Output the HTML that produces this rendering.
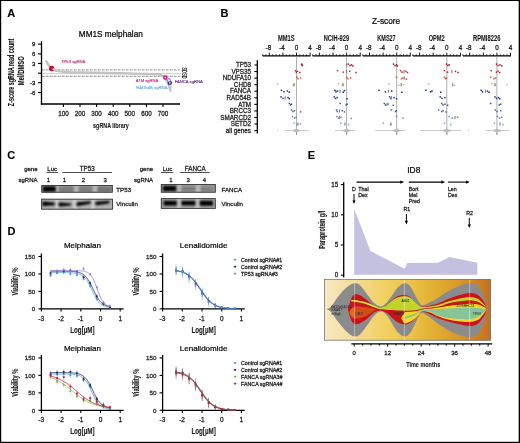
<!DOCTYPE html>
<html><head><meta charset="utf-8"><style>
html,body{margin:0;padding:0;background:#fff;}
svg{display:block;will-change:transform;}
text{font-family:"Liberation Sans", sans-serif;}
</style></head><body>
<svg width="520" height="443" viewBox="0 0 520 443">
<rect width="520" height="443" fill="#fff"/>
<defs>
<linearGradient id="fg" x1="324.3" y1="0" x2="490.8" y2="0" gradientUnits="userSpaceOnUse">
<stop offset="0" stop-color="#f9e8c0"/>
<stop offset="0.12" stop-color="#f6e0a8"/>
<stop offset="0.22" stop-color="#f3d88a"/>
<stop offset="0.37" stop-color="#f2d060"/>
<stop offset="0.52" stop-color="#ecc248"/>
<stop offset="0.64" stop-color="#e3b234"/>
<stop offset="0.82" stop-color="#d8962a"/>
<stop offset="1" stop-color="#c47020"/>
</linearGradient>
<filter id="bl1" x="-50%" y="-20%" width="200%" height="140%"><feGaussianBlur stdDeviation="1.0 0.5"/></filter>
<filter id="bl2" x="-20%" y="-80%" width="140%" height="260%"><feGaussianBlur stdDeviation="0.85"/></filter>
</defs>
<text x="7.3" y="16.9" font-size="11" fill="#000" stroke="#000" stroke-width="0.12" font-weight="bold">A</text>
<text x="78.8" y="37.0" font-size="8.2" fill="#000" stroke="#000" stroke-width="0.2" textLength="64" lengthAdjust="spacingAndGlyphs">MM1S melphalan</text>
<text x="14.3" y="72.4" font-size="8.4" fill="#111" stroke="#111" stroke-width="0.12" text-anchor="middle" font-weight="bold" textLength="67.5" lengthAdjust="spacingAndGlyphs" transform="rotate(-90 14.3 72.4)">Z-score sgRNA read count</text>
<text x="23.9" y="70.7" font-size="8.4" fill="#111" stroke="#111" stroke-width="0.12" text-anchor="middle" font-weight="bold" textLength="29" lengthAdjust="spacingAndGlyphs" transform="rotate(-90 23.9 70.7)">Mel/DMSO</text>
<line x1="41.50" y1="41.20" x2="41.50" y2="104.60" stroke="#000" stroke-width="1.3"/>
<line x1="40.85" y1="104.00" x2="180.00" y2="104.00" stroke="#000" stroke-width="1.3"/>
<line x1="38.00" y1="44.10" x2="41.50" y2="44.10" stroke="#000" stroke-width="1.1"/>
<text x="35.3" y="46.2" font-size="6" fill="#222" stroke="#222" stroke-width="0.26" text-anchor="end">9</text>
<line x1="38.00" y1="53.90" x2="41.50" y2="53.90" stroke="#000" stroke-width="1.1"/>
<text x="35.3" y="56.0" font-size="6" fill="#222" stroke="#222" stroke-width="0.26" text-anchor="end">6</text>
<line x1="38.00" y1="63.50" x2="41.50" y2="63.50" stroke="#000" stroke-width="1.1"/>
<text x="35.3" y="65.6" font-size="6" fill="#222" stroke="#222" stroke-width="0.26" text-anchor="end">3</text>
<line x1="38.00" y1="73.20" x2="41.50" y2="73.20" stroke="#000" stroke-width="1.1"/>
<line x1="38.00" y1="82.70" x2="41.50" y2="82.70" stroke="#000" stroke-width="1.1"/>
<text x="35.3" y="84.8" font-size="6" fill="#222" stroke="#222" stroke-width="0.26" text-anchor="end">-3</text>
<line x1="38.00" y1="92.50" x2="41.50" y2="92.50" stroke="#000" stroke-width="1.1"/>
<text x="35.3" y="94.6" font-size="6" fill="#222" stroke="#222" stroke-width="0.26" text-anchor="end">-6</text>
<line x1="63.40" y1="104.00" x2="63.40" y2="107.00" stroke="#000" stroke-width="1.1"/>
<text x="63.4" y="115.7" font-size="6.3" fill="#222" stroke="#222" stroke-width="0.26" text-anchor="middle">100</text>
<line x1="80.00" y1="104.00" x2="80.00" y2="107.00" stroke="#000" stroke-width="1.1"/>
<text x="80.0" y="115.7" font-size="6.3" fill="#222" stroke="#222" stroke-width="0.26" text-anchor="middle">200</text>
<line x1="96.60" y1="104.00" x2="96.60" y2="107.00" stroke="#000" stroke-width="1.1"/>
<text x="96.6" y="115.7" font-size="6.3" fill="#222" stroke="#222" stroke-width="0.26" text-anchor="middle">300</text>
<line x1="113.20" y1="104.00" x2="113.20" y2="107.00" stroke="#000" stroke-width="1.1"/>
<text x="113.2" y="115.7" font-size="6.3" fill="#222" stroke="#222" stroke-width="0.26" text-anchor="middle">400</text>
<line x1="129.80" y1="104.00" x2="129.80" y2="107.00" stroke="#000" stroke-width="1.1"/>
<text x="129.8" y="115.7" font-size="6.3" fill="#222" stroke="#222" stroke-width="0.26" text-anchor="middle">500</text>
<line x1="146.40" y1="104.00" x2="146.40" y2="107.00" stroke="#000" stroke-width="1.1"/>
<text x="146.4" y="115.7" font-size="6.3" fill="#222" stroke="#222" stroke-width="0.26" text-anchor="middle">600</text>
<line x1="163.00" y1="104.00" x2="163.00" y2="107.00" stroke="#000" stroke-width="1.1"/>
<text x="163.0" y="115.7" font-size="6.3" fill="#222" stroke="#222" stroke-width="0.26" text-anchor="middle">700</text>
<text x="93.1" y="127.6" font-size="7.9" fill="#1a1a1a" stroke="#1a1a1a" stroke-width="0.12" font-weight="bold" textLength="35.7" lengthAdjust="spacingAndGlyphs">sgRNA library</text>
<line x1="42.20" y1="69.90" x2="180.80" y2="69.90" stroke="#333" stroke-width="0.8" stroke-dasharray="1.4,1.0,0.6,1.0"/>
<line x1="42.20" y1="76.30" x2="180.80" y2="76.30" stroke="#333" stroke-width="0.8" stroke-dasharray="1.4,1.0,0.6,1.0"/>
<line x1="42.20" y1="73.70" x2="181.00" y2="73.70" stroke="#bbb" stroke-width="0.8"/>
<path d="M46.2,61.2 C48.5,65 50,68 53,70 C57,71.6 62,71.7 70,72.2 L120,73.2 C140,73.6 155,73.8 160,74.5 C163,75.5 166,79 168,83 L170.5,90.6" fill="none" stroke="#c2c2c2" stroke-width="2.4" stroke-linecap="round"/>
<text x="182.2" y="67.6" font-size="6.8" fill="#222" stroke="#222" stroke-width="0.26" textLength="5.2" lengthAdjust="spacingAndGlyphs" transform="rotate(90 182.2 67.6)">SD</text>
<text x="182.2" y="73.3" font-size="6.8" fill="#222" stroke="#222" stroke-width="0.26" textLength="5.2" lengthAdjust="spacingAndGlyphs" transform="rotate(90 182.2 73.3)">SD</text>
<circle cx="51.70" cy="68.50" r="2.7" fill="#c0102a"/>
<circle cx="53.40" cy="69.20" r="0.95" fill="#ffffff" opacity="0.9"/>
<circle cx="170.20" cy="86.80" r="1.9" fill="#c4ccd8"/>
<circle cx="169.80" cy="82.80" r="1.55" fill="#f4f4fa" stroke="#4a1a6a" stroke-width="1.3"/>
<circle cx="168.90" cy="80.20" r="1.5" fill="#eef4fc" stroke="#5aa0e0" stroke-width="1.2" opacity="0.95"/>
<circle cx="165.30" cy="77.60" r="1.55" fill="#fbeef6" stroke="#d0107a" stroke-width="1.4"/>
<text x="61.0" y="62.9" font-size="4.2" fill="#c03060" stroke="#c03060" stroke-width="0.14" textLength="24.4" lengthAdjust="spacingAndGlyphs">TP53 sgRNA</text>
<text x="135.8" y="82.4" font-size="4.2" fill="#d0208a" stroke="#d0208a" stroke-width="0.14" textLength="22.5" lengthAdjust="spacingAndGlyphs">ATM sgRNA</text>
<text x="136.3" y="88.7" font-size="4.2" fill="#6aa8e0" stroke="#6aa8e0" stroke-width="0.14" textLength="31.2" lengthAdjust="spacingAndGlyphs">RAD54B sgRNA</text>
<text x="174.7" y="83.0" font-size="4.2" fill="#6a2a8a" stroke="#6a2a8a" stroke-width="0.14" textLength="28.2" lengthAdjust="spacingAndGlyphs">FANCA sgRNA</text>
<text x="220.4" y="16.9" font-size="11" fill="#000" stroke="#000" stroke-width="0.12" font-weight="bold">B</text>
<text x="372.1" y="24.4" font-size="8.3" fill="#000" stroke="#000" stroke-width="0.2" textLength="28.1" lengthAdjust="spacingAndGlyphs">Z-score</text>
<line x1="257.30" y1="60.20" x2="257.30" y2="133.50" stroke="#000" stroke-width="1.3"/>
<line x1="254.40" y1="65.00" x2="257.30" y2="65.00" stroke="#000" stroke-width="1.1"/>
<text x="251" y="67.2" font-size="6.3" fill="#222" stroke="#222" stroke-width="0.26" text-anchor="end">TP53</text>
<line x1="254.40" y1="71.56" x2="257.30" y2="71.56" stroke="#000" stroke-width="1.1"/>
<text x="251" y="73.76" font-size="6.3" fill="#222" stroke="#222" stroke-width="0.26" text-anchor="end">VPS35</text>
<line x1="254.40" y1="78.12" x2="257.30" y2="78.12" stroke="#000" stroke-width="1.1"/>
<text x="251" y="80.32000000000001" font-size="6.3" fill="#222" stroke="#222" stroke-width="0.26" text-anchor="end">NDUFA10</text>
<line x1="254.40" y1="84.68" x2="257.30" y2="84.68" stroke="#000" stroke-width="1.1"/>
<text x="251" y="86.88000000000001" font-size="6.3" fill="#222" stroke="#222" stroke-width="0.26" text-anchor="end">CHD8</text>
<line x1="254.40" y1="91.24" x2="257.30" y2="91.24" stroke="#000" stroke-width="1.1"/>
<text x="251" y="93.44" font-size="6.3" fill="#222" stroke="#222" stroke-width="0.26" text-anchor="end">FANCA</text>
<line x1="254.40" y1="97.80" x2="257.30" y2="97.80" stroke="#000" stroke-width="1.1"/>
<text x="251" y="100.0" font-size="6.3" fill="#222" stroke="#222" stroke-width="0.26" text-anchor="end">RAD54B</text>
<line x1="254.40" y1="104.36" x2="257.30" y2="104.36" stroke="#000" stroke-width="1.1"/>
<text x="251" y="106.56" font-size="6.3" fill="#222" stroke="#222" stroke-width="0.26" text-anchor="end">ATM</text>
<line x1="254.40" y1="110.92" x2="257.30" y2="110.92" stroke="#000" stroke-width="1.1"/>
<text x="251" y="113.11999999999999" font-size="6.3" fill="#222" stroke="#222" stroke-width="0.26" text-anchor="end">BRCC3</text>
<line x1="254.40" y1="117.48" x2="257.30" y2="117.48" stroke="#000" stroke-width="1.1"/>
<text x="251" y="119.67999999999999" font-size="6.3" fill="#222" stroke="#222" stroke-width="0.26" text-anchor="end">SMARCD2</text>
<line x1="254.40" y1="124.04" x2="257.30" y2="124.04" stroke="#000" stroke-width="1.1"/>
<text x="251" y="126.24" font-size="6.3" fill="#222" stroke="#222" stroke-width="0.26" text-anchor="end">SETD2</text>
<line x1="254.40" y1="130.60" x2="257.30" y2="130.60" stroke="#000" stroke-width="1.1"/>
<text x="251" y="132.79999999999998" font-size="6.3" fill="#222" stroke="#222" stroke-width="0.26" text-anchor="end">all genes</text>
<text x="286.3" y="41.0" font-size="8.5" fill="#1a1a1a" stroke="#1a1a1a" stroke-width="0.12" text-anchor="middle" font-weight="bold" textLength="16.7" lengthAdjust="spacingAndGlyphs">MM1S</text>
<line x1="262.50" y1="55.80" x2="310.60" y2="55.80" stroke="#000" stroke-width="1.3"/>
<line x1="262.50" y1="54.30" x2="262.50" y2="55.80" stroke="#000" stroke-width="0.8"/>
<line x1="265.90" y1="54.30" x2="265.90" y2="55.80" stroke="#000" stroke-width="0.8"/>
<line x1="269.30" y1="52.60" x2="269.30" y2="55.80" stroke="#000" stroke-width="0.9"/>
<line x1="272.70" y1="54.30" x2="272.70" y2="55.80" stroke="#000" stroke-width="0.8"/>
<line x1="276.10" y1="54.30" x2="276.10" y2="55.80" stroke="#000" stroke-width="0.8"/>
<line x1="279.50" y1="54.30" x2="279.50" y2="55.80" stroke="#000" stroke-width="0.8"/>
<line x1="282.90" y1="52.60" x2="282.90" y2="55.80" stroke="#000" stroke-width="0.9"/>
<line x1="286.30" y1="54.30" x2="286.30" y2="55.80" stroke="#000" stroke-width="0.8"/>
<line x1="289.70" y1="54.30" x2="289.70" y2="55.80" stroke="#000" stroke-width="0.8"/>
<line x1="293.10" y1="54.30" x2="293.10" y2="55.80" stroke="#000" stroke-width="0.8"/>
<line x1="296.50" y1="52.60" x2="296.50" y2="55.80" stroke="#000" stroke-width="0.9"/>
<line x1="299.90" y1="54.30" x2="299.90" y2="55.80" stroke="#000" stroke-width="0.8"/>
<line x1="303.30" y1="54.30" x2="303.30" y2="55.80" stroke="#000" stroke-width="0.8"/>
<line x1="306.70" y1="54.30" x2="306.70" y2="55.80" stroke="#000" stroke-width="0.8"/>
<line x1="310.10" y1="52.60" x2="310.10" y2="55.80" stroke="#000" stroke-width="0.9"/>
<text x="268.40000000000003" y="49.6" font-size="6.3" fill="#222" stroke="#222" stroke-width="0.26" text-anchor="middle">-8</text>
<text x="282.0" y="49.6" font-size="6.3" fill="#222" stroke="#222" stroke-width="0.26" text-anchor="middle">-4</text>
<text x="296.5" y="49.6" font-size="6.3" fill="#222" stroke="#222" stroke-width="0.26" text-anchor="middle">0</text>
<text x="310.1" y="49.6" font-size="6.3" fill="#222" stroke="#222" stroke-width="0.26" text-anchor="middle">4</text>
<line x1="296.50" y1="56.50" x2="296.50" y2="135.00" stroke="#9a9a9a" stroke-width="0.8"/>
<text x="336.40000000000003" y="41.0" font-size="8.5" fill="#1a1a1a" stroke="#1a1a1a" stroke-width="0.12" text-anchor="middle" font-weight="bold" textLength="25.3" lengthAdjust="spacingAndGlyphs">NCIH-929</text>
<line x1="312.60" y1="55.80" x2="360.70" y2="55.80" stroke="#000" stroke-width="1.3"/>
<line x1="312.60" y1="54.30" x2="312.60" y2="55.80" stroke="#000" stroke-width="0.8"/>
<line x1="316.00" y1="54.30" x2="316.00" y2="55.80" stroke="#000" stroke-width="0.8"/>
<line x1="319.40" y1="52.60" x2="319.40" y2="55.80" stroke="#000" stroke-width="0.9"/>
<line x1="322.80" y1="54.30" x2="322.80" y2="55.80" stroke="#000" stroke-width="0.8"/>
<line x1="326.20" y1="54.30" x2="326.20" y2="55.80" stroke="#000" stroke-width="0.8"/>
<line x1="329.60" y1="54.30" x2="329.60" y2="55.80" stroke="#000" stroke-width="0.8"/>
<line x1="333.00" y1="52.60" x2="333.00" y2="55.80" stroke="#000" stroke-width="0.9"/>
<line x1="336.40" y1="54.30" x2="336.40" y2="55.80" stroke="#000" stroke-width="0.8"/>
<line x1="339.80" y1="54.30" x2="339.80" y2="55.80" stroke="#000" stroke-width="0.8"/>
<line x1="343.20" y1="54.30" x2="343.20" y2="55.80" stroke="#000" stroke-width="0.8"/>
<line x1="346.60" y1="52.60" x2="346.60" y2="55.80" stroke="#000" stroke-width="0.9"/>
<line x1="350.00" y1="54.30" x2="350.00" y2="55.80" stroke="#000" stroke-width="0.8"/>
<line x1="353.40" y1="54.30" x2="353.40" y2="55.80" stroke="#000" stroke-width="0.8"/>
<line x1="356.80" y1="54.30" x2="356.80" y2="55.80" stroke="#000" stroke-width="0.8"/>
<line x1="360.20" y1="52.60" x2="360.20" y2="55.80" stroke="#000" stroke-width="0.9"/>
<text x="318.50000000000006" y="49.6" font-size="6.3" fill="#222" stroke="#222" stroke-width="0.26" text-anchor="middle">-8</text>
<text x="332.1" y="49.6" font-size="6.3" fill="#222" stroke="#222" stroke-width="0.26" text-anchor="middle">-4</text>
<text x="346.6" y="49.6" font-size="6.3" fill="#222" stroke="#222" stroke-width="0.26" text-anchor="middle">0</text>
<text x="360.20000000000005" y="49.6" font-size="6.3" fill="#222" stroke="#222" stroke-width="0.26" text-anchor="middle">4</text>
<line x1="346.60" y1="56.50" x2="346.60" y2="135.00" stroke="#9a9a9a" stroke-width="0.8"/>
<text x="386.5" y="41.0" font-size="8.5" fill="#1a1a1a" stroke="#1a1a1a" stroke-width="0.12" text-anchor="middle" font-weight="bold" textLength="18.3" lengthAdjust="spacingAndGlyphs">KMS27</text>
<line x1="362.70" y1="55.80" x2="410.80" y2="55.80" stroke="#000" stroke-width="1.3"/>
<line x1="362.70" y1="54.30" x2="362.70" y2="55.80" stroke="#000" stroke-width="0.8"/>
<line x1="366.10" y1="54.30" x2="366.10" y2="55.80" stroke="#000" stroke-width="0.8"/>
<line x1="369.50" y1="52.60" x2="369.50" y2="55.80" stroke="#000" stroke-width="0.9"/>
<line x1="372.90" y1="54.30" x2="372.90" y2="55.80" stroke="#000" stroke-width="0.8"/>
<line x1="376.30" y1="54.30" x2="376.30" y2="55.80" stroke="#000" stroke-width="0.8"/>
<line x1="379.70" y1="54.30" x2="379.70" y2="55.80" stroke="#000" stroke-width="0.8"/>
<line x1="383.10" y1="52.60" x2="383.10" y2="55.80" stroke="#000" stroke-width="0.9"/>
<line x1="386.50" y1="54.30" x2="386.50" y2="55.80" stroke="#000" stroke-width="0.8"/>
<line x1="389.90" y1="54.30" x2="389.90" y2="55.80" stroke="#000" stroke-width="0.8"/>
<line x1="393.30" y1="54.30" x2="393.30" y2="55.80" stroke="#000" stroke-width="0.8"/>
<line x1="396.70" y1="52.60" x2="396.70" y2="55.80" stroke="#000" stroke-width="0.9"/>
<line x1="400.10" y1="54.30" x2="400.10" y2="55.80" stroke="#000" stroke-width="0.8"/>
<line x1="403.50" y1="54.30" x2="403.50" y2="55.80" stroke="#000" stroke-width="0.8"/>
<line x1="406.90" y1="54.30" x2="406.90" y2="55.80" stroke="#000" stroke-width="0.8"/>
<line x1="410.30" y1="52.60" x2="410.30" y2="55.80" stroke="#000" stroke-width="0.9"/>
<text x="368.6" y="49.6" font-size="6.3" fill="#222" stroke="#222" stroke-width="0.26" text-anchor="middle">-8</text>
<text x="382.2" y="49.6" font-size="6.3" fill="#222" stroke="#222" stroke-width="0.26" text-anchor="middle">-4</text>
<text x="396.7" y="49.6" font-size="6.3" fill="#222" stroke="#222" stroke-width="0.26" text-anchor="middle">0</text>
<text x="410.3" y="49.6" font-size="6.3" fill="#222" stroke="#222" stroke-width="0.26" text-anchor="middle">4</text>
<line x1="396.70" y1="56.50" x2="396.70" y2="135.00" stroke="#9a9a9a" stroke-width="0.8"/>
<text x="436.6" y="41.0" font-size="8.5" fill="#1a1a1a" stroke="#1a1a1a" stroke-width="0.12" text-anchor="middle" font-weight="bold" textLength="15.9" lengthAdjust="spacingAndGlyphs">OPM2</text>
<line x1="412.80" y1="55.80" x2="460.90" y2="55.80" stroke="#000" stroke-width="1.3"/>
<line x1="412.80" y1="54.30" x2="412.80" y2="55.80" stroke="#000" stroke-width="0.8"/>
<line x1="416.20" y1="54.30" x2="416.20" y2="55.80" stroke="#000" stroke-width="0.8"/>
<line x1="419.60" y1="52.60" x2="419.60" y2="55.80" stroke="#000" stroke-width="0.9"/>
<line x1="423.00" y1="54.30" x2="423.00" y2="55.80" stroke="#000" stroke-width="0.8"/>
<line x1="426.40" y1="54.30" x2="426.40" y2="55.80" stroke="#000" stroke-width="0.8"/>
<line x1="429.80" y1="54.30" x2="429.80" y2="55.80" stroke="#000" stroke-width="0.8"/>
<line x1="433.20" y1="52.60" x2="433.20" y2="55.80" stroke="#000" stroke-width="0.9"/>
<line x1="436.60" y1="54.30" x2="436.60" y2="55.80" stroke="#000" stroke-width="0.8"/>
<line x1="440.00" y1="54.30" x2="440.00" y2="55.80" stroke="#000" stroke-width="0.8"/>
<line x1="443.40" y1="54.30" x2="443.40" y2="55.80" stroke="#000" stroke-width="0.8"/>
<line x1="446.80" y1="52.60" x2="446.80" y2="55.80" stroke="#000" stroke-width="0.9"/>
<line x1="450.20" y1="54.30" x2="450.20" y2="55.80" stroke="#000" stroke-width="0.8"/>
<line x1="453.60" y1="54.30" x2="453.60" y2="55.80" stroke="#000" stroke-width="0.8"/>
<line x1="457.00" y1="54.30" x2="457.00" y2="55.80" stroke="#000" stroke-width="0.8"/>
<line x1="460.40" y1="52.60" x2="460.40" y2="55.80" stroke="#000" stroke-width="0.9"/>
<text x="418.70000000000005" y="49.6" font-size="6.3" fill="#222" stroke="#222" stroke-width="0.26" text-anchor="middle">-8</text>
<text x="432.3" y="49.6" font-size="6.3" fill="#222" stroke="#222" stroke-width="0.26" text-anchor="middle">-4</text>
<text x="446.8" y="49.6" font-size="6.3" fill="#222" stroke="#222" stroke-width="0.26" text-anchor="middle">0</text>
<text x="460.40000000000003" y="49.6" font-size="6.3" fill="#222" stroke="#222" stroke-width="0.26" text-anchor="middle">4</text>
<line x1="446.80" y1="56.50" x2="446.80" y2="135.00" stroke="#9a9a9a" stroke-width="0.8"/>
<text x="486.7" y="41.0" font-size="8.5" fill="#1a1a1a" stroke="#1a1a1a" stroke-width="0.12" text-anchor="middle" font-weight="bold" textLength="27.5" lengthAdjust="spacingAndGlyphs">RPMI8226</text>
<line x1="462.90" y1="55.80" x2="511.00" y2="55.80" stroke="#000" stroke-width="1.3"/>
<line x1="462.90" y1="54.30" x2="462.90" y2="55.80" stroke="#000" stroke-width="0.8"/>
<line x1="466.30" y1="54.30" x2="466.30" y2="55.80" stroke="#000" stroke-width="0.8"/>
<line x1="469.70" y1="52.60" x2="469.70" y2="55.80" stroke="#000" stroke-width="0.9"/>
<line x1="473.10" y1="54.30" x2="473.10" y2="55.80" stroke="#000" stroke-width="0.8"/>
<line x1="476.50" y1="54.30" x2="476.50" y2="55.80" stroke="#000" stroke-width="0.8"/>
<line x1="479.90" y1="54.30" x2="479.90" y2="55.80" stroke="#000" stroke-width="0.8"/>
<line x1="483.30" y1="52.60" x2="483.30" y2="55.80" stroke="#000" stroke-width="0.9"/>
<line x1="486.70" y1="54.30" x2="486.70" y2="55.80" stroke="#000" stroke-width="0.8"/>
<line x1="490.10" y1="54.30" x2="490.10" y2="55.80" stroke="#000" stroke-width="0.8"/>
<line x1="493.50" y1="54.30" x2="493.50" y2="55.80" stroke="#000" stroke-width="0.8"/>
<line x1="496.90" y1="52.60" x2="496.90" y2="55.80" stroke="#000" stroke-width="0.9"/>
<line x1="500.30" y1="54.30" x2="500.30" y2="55.80" stroke="#000" stroke-width="0.8"/>
<line x1="503.70" y1="54.30" x2="503.70" y2="55.80" stroke="#000" stroke-width="0.8"/>
<line x1="507.10" y1="54.30" x2="507.10" y2="55.80" stroke="#000" stroke-width="0.8"/>
<line x1="510.50" y1="52.60" x2="510.50" y2="55.80" stroke="#000" stroke-width="0.9"/>
<text x="468.8" y="49.6" font-size="6.3" fill="#222" stroke="#222" stroke-width="0.26" text-anchor="middle">-8</text>
<text x="482.4" y="49.6" font-size="6.3" fill="#222" stroke="#222" stroke-width="0.26" text-anchor="middle">-4</text>
<text x="496.9" y="49.6" font-size="6.3" fill="#222" stroke="#222" stroke-width="0.26" text-anchor="middle">0</text>
<text x="510.5" y="49.6" font-size="6.3" fill="#222" stroke="#222" stroke-width="0.26" text-anchor="middle">4</text>
<line x1="496.90" y1="56.50" x2="496.90" y2="135.00" stroke="#9a9a9a" stroke-width="0.8"/>
<rect x="301.05" y="63.35" width="1.5" height="1.5" fill="#b01030"/>
<rect x="301.65" y="64.85" width="1.5" height="1.5" fill="#b01030"/>
<rect x="300.85" y="64.05" width="1.5" height="1.5" fill="#b01030"/>
<rect x="294.65" y="69.91" width="1.5" height="1.5" fill="#c02828"/>
<rect x="295.55" y="71.41" width="1.5" height="1.5" fill="#c02828"/>
<rect x="296.75" y="70.61" width="1.5" height="1.5" fill="#c02828"/>
<rect x="299.05" y="71.81" width="1.5" height="1.5" fill="#c02828"/>
<rect x="296.25" y="76.47" width="1.5" height="1.5" fill="#d05a3a"/>
<rect x="297.25" y="77.97" width="1.5" height="1.5" fill="#d05a3a"/>
<rect x="299.75" y="77.17" width="1.5" height="1.5" fill="#d05a3a"/>
<rect x="276.75" y="83.03" width="1.5" height="1.5" fill="#e8a080"/>
<rect x="292.75" y="84.53" width="1.5" height="1.5" fill="#e8a080"/>
<rect x="293.45" y="83.73" width="1.5" height="1.5" fill="#e8a080"/>
<rect x="293.40" y="83.08" width="1.2" height="3.2" fill="#8a8a8a"/>
<rect x="280.75" y="89.59" width="1.5" height="1.5" fill="#1a2e80"/>
<rect x="283.25" y="91.09" width="1.5" height="1.5" fill="#1a2e80"/>
<rect x="286.75" y="90.29" width="1.5" height="1.5" fill="#1a2e80"/>
<rect x="288.55" y="91.49" width="1.5" height="1.5" fill="#1a2e80"/>
<rect x="280.25" y="96.15" width="1.5" height="1.5" fill="#243a8a"/>
<rect x="282.25" y="97.65" width="1.5" height="1.5" fill="#243a8a"/>
<rect x="287.25" y="96.85" width="1.5" height="1.5" fill="#243a8a"/>
<rect x="288.55" y="98.05" width="1.5" height="1.5" fill="#243a8a"/>
<rect x="284.60" y="96.20" width="1.2" height="3.2" fill="#8a8a8a"/>
<rect x="288.55" y="102.71" width="1.5" height="1.5" fill="#34509a"/>
<rect x="289.75" y="104.21" width="1.5" height="1.5" fill="#34509a"/>
<rect x="290.75" y="103.41" width="1.5" height="1.5" fill="#34509a"/>
<rect x="290.75" y="109.27" width="1.5" height="1.5" fill="#4a64a8"/>
<rect x="292.25" y="110.77" width="1.5" height="1.5" fill="#4a64a8"/>
<rect x="293.75" y="109.97" width="1.5" height="1.5" fill="#4a64a8"/>
<rect x="299.95" y="111.17" width="1.5" height="1.5" fill="#4a64a8"/>
<rect x="291.75" y="115.83" width="1.5" height="1.5" fill="#6a80bc"/>
<rect x="293.75" y="117.33" width="1.5" height="1.5" fill="#6a80bc"/>
<rect x="295.25" y="116.53" width="1.5" height="1.5" fill="#6a80bc"/>
<rect x="293.25" y="122.39" width="1.5" height="1.5" fill="#8ea0cc"/>
<rect x="296.25" y="123.89" width="1.5" height="1.5" fill="#8ea0cc"/>
<rect x="299.75" y="123.09" width="1.5" height="1.5" fill="#8ea0cc"/>
<rect x="297.40" y="122.44" width="1.2" height="3.2" fill="#8a8a8a"/>
<rect x="347.45" y="63.35" width="1.5" height="1.5" fill="#b01030"/>
<rect x="349.25" y="64.85" width="1.5" height="1.5" fill="#b01030"/>
<rect x="350.75" y="64.05" width="1.5" height="1.5" fill="#b01030"/>
<rect x="352.25" y="65.25" width="1.5" height="1.5" fill="#b01030"/>
<rect x="345.90" y="63.40" width="1.2" height="3.2" fill="#8a8a8a"/>
<rect x="336.75" y="69.91" width="1.5" height="1.5" fill="#c02828"/>
<rect x="342.55" y="71.41" width="1.5" height="1.5" fill="#c02828"/>
<rect x="348.95" y="70.61" width="1.5" height="1.5" fill="#c02828"/>
<rect x="355.25" y="71.81" width="1.5" height="1.5" fill="#c02828"/>
<rect x="345.90" y="69.96" width="1.2" height="3.2" fill="#8a8a8a"/>
<rect x="346.05" y="76.47" width="1.5" height="1.5" fill="#d05a3a"/>
<rect x="347.25" y="77.97" width="1.5" height="1.5" fill="#d05a3a"/>
<rect x="349.95" y="77.17" width="1.5" height="1.5" fill="#d05a3a"/>
<rect x="337.85" y="83.03" width="1.5" height="1.5" fill="#e8a080"/>
<rect x="341.75" y="84.53" width="1.5" height="1.5" fill="#e8a080"/>
<rect x="342.75" y="83.73" width="1.5" height="1.5" fill="#e8a080"/>
<rect x="342.40" y="83.08" width="1.2" height="3.2" fill="#8a8a8a"/>
<rect x="334.15" y="89.59" width="1.5" height="1.5" fill="#1a2e80"/>
<rect x="335.25" y="91.09" width="1.5" height="1.5" fill="#1a2e80"/>
<rect x="336.75" y="90.29" width="1.5" height="1.5" fill="#1a2e80"/>
<rect x="342.55" y="91.49" width="1.5" height="1.5" fill="#1a2e80"/>
<rect x="343.65" y="89.89" width="1.5" height="1.5" fill="#1a2e80"/>
<rect x="339.40" y="89.64" width="1.2" height="3.2" fill="#8a8a8a"/>
<rect x="333.55" y="96.15" width="1.5" height="1.5" fill="#243a8a"/>
<rect x="334.75" y="97.65" width="1.5" height="1.5" fill="#243a8a"/>
<rect x="336.45" y="96.85" width="1.5" height="1.5" fill="#243a8a"/>
<rect x="346.25" y="98.05" width="1.5" height="1.5" fill="#243a8a"/>
<rect x="339.45" y="102.71" width="1.5" height="1.5" fill="#34509a"/>
<rect x="345.45" y="104.21" width="1.5" height="1.5" fill="#34509a"/>
<rect x="346.45" y="103.41" width="1.5" height="1.5" fill="#34509a"/>
<rect x="335.75" y="109.27" width="1.5" height="1.5" fill="#4a64a8"/>
<rect x="336.55" y="110.77" width="1.5" height="1.5" fill="#4a64a8"/>
<rect x="341.55" y="109.97" width="1.5" height="1.5" fill="#4a64a8"/>
<rect x="343.75" y="111.17" width="1.5" height="1.5" fill="#4a64a8"/>
<rect x="338.90" y="109.32" width="1.2" height="3.2" fill="#8a8a8a"/>
<rect x="336.25" y="115.83" width="1.5" height="1.5" fill="#6a80bc"/>
<rect x="337.75" y="117.33" width="1.5" height="1.5" fill="#6a80bc"/>
<rect x="340.25" y="116.53" width="1.5" height="1.5" fill="#6a80bc"/>
<rect x="350.55" y="117.73" width="1.5" height="1.5" fill="#6a80bc"/>
<rect x="338.90" y="115.88" width="1.2" height="3.2" fill="#8a8a8a"/>
<rect x="339.95" y="122.39" width="1.5" height="1.5" fill="#8ea0cc"/>
<rect x="347.85" y="123.89" width="1.5" height="1.5" fill="#8ea0cc"/>
<rect x="344.40" y="122.44" width="1.2" height="3.2" fill="#8a8a8a"/>
<rect x="392.75" y="63.35" width="1.5" height="1.5" fill="#b01030"/>
<rect x="394.25" y="64.85" width="1.5" height="1.5" fill="#b01030"/>
<rect x="395.75" y="64.05" width="1.5" height="1.5" fill="#b01030"/>
<rect x="396.55" y="65.25" width="1.5" height="1.5" fill="#b01030"/>
<rect x="399.75" y="69.91" width="1.5" height="1.5" fill="#c02828"/>
<rect x="401.25" y="71.41" width="1.5" height="1.5" fill="#c02828"/>
<rect x="405.25" y="70.61" width="1.5" height="1.5" fill="#c02828"/>
<rect x="406.75" y="71.81" width="1.5" height="1.5" fill="#c02828"/>
<rect x="403.40" y="69.96" width="1.2" height="3.2" fill="#8a8a8a"/>
<rect x="395.75" y="76.47" width="1.5" height="1.5" fill="#d05a3a"/>
<rect x="400.75" y="77.97" width="1.5" height="1.5" fill="#d05a3a"/>
<rect x="402.25" y="77.17" width="1.5" height="1.5" fill="#d05a3a"/>
<rect x="405.75" y="78.37" width="1.5" height="1.5" fill="#d05a3a"/>
<rect x="403.90" y="76.52" width="1.2" height="3.2" fill="#8a8a8a"/>
<rect x="388.35" y="83.03" width="1.5" height="1.5" fill="#e8a080"/>
<rect x="397.85" y="84.53" width="1.5" height="1.5" fill="#e8a080"/>
<rect x="402.65" y="83.73" width="1.5" height="1.5" fill="#e8a080"/>
<rect x="400.60" y="83.08" width="1.2" height="3.2" fill="#8a8a8a"/>
<rect x="378.25" y="89.59" width="1.5" height="1.5" fill="#1a2e80"/>
<rect x="384.65" y="91.09" width="1.5" height="1.5" fill="#1a2e80"/>
<rect x="390.95" y="90.29" width="1.5" height="1.5" fill="#1a2e80"/>
<rect x="401.05" y="91.49" width="1.5" height="1.5" fill="#1a2e80"/>
<rect x="387.90" y="89.64" width="1.2" height="3.2" fill="#8a8a8a"/>
<rect x="388.85" y="96.15" width="1.5" height="1.5" fill="#243a8a"/>
<rect x="390.25" y="97.65" width="1.5" height="1.5" fill="#243a8a"/>
<rect x="393.25" y="96.85" width="1.5" height="1.5" fill="#243a8a"/>
<rect x="395.75" y="98.05" width="1.5" height="1.5" fill="#243a8a"/>
<rect x="390.90" y="96.20" width="1.2" height="3.2" fill="#8a8a8a"/>
<rect x="383.55" y="102.71" width="1.5" height="1.5" fill="#34509a"/>
<rect x="384.75" y="104.21" width="1.5" height="1.5" fill="#34509a"/>
<rect x="387.25" y="103.41" width="1.5" height="1.5" fill="#34509a"/>
<rect x="392.55" y="104.61" width="1.5" height="1.5" fill="#34509a"/>
<rect x="386.40" y="102.76" width="1.2" height="3.2" fill="#8a8a8a"/>
<rect x="390.45" y="109.27" width="1.5" height="1.5" fill="#4a64a8"/>
<rect x="394.75" y="110.77" width="1.5" height="1.5" fill="#4a64a8"/>
<rect x="395.55" y="109.97" width="1.5" height="1.5" fill="#4a64a8"/>
<rect x="395.75" y="115.83" width="1.5" height="1.5" fill="#6a80bc"/>
<rect x="402.15" y="117.33" width="1.5" height="1.5" fill="#6a80bc"/>
<rect x="382.55" y="122.39" width="1.5" height="1.5" fill="#8ea0cc"/>
<rect x="389.75" y="123.89" width="1.5" height="1.5" fill="#8ea0cc"/>
<rect x="390.40" y="122.44" width="1.2" height="3.2" fill="#8a8a8a"/>
<rect x="445.75" y="63.35" width="1.5" height="1.5" fill="#b01030"/>
<rect x="447.05" y="64.85" width="1.5" height="1.5" fill="#b01030"/>
<rect x="448.45" y="64.05" width="1.5" height="1.5" fill="#b01030"/>
<rect x="443.65" y="69.91" width="1.5" height="1.5" fill="#c02828"/>
<rect x="446.85" y="71.41" width="1.5" height="1.5" fill="#c02828"/>
<rect x="454.75" y="70.61" width="1.5" height="1.5" fill="#c02828"/>
<rect x="457.35" y="71.81" width="1.5" height="1.5" fill="#c02828"/>
<rect x="451.20" y="69.96" width="1.2" height="3.2" fill="#8a8a8a"/>
<rect x="443.65" y="76.47" width="1.5" height="1.5" fill="#d05a3a"/>
<rect x="444.75" y="77.97" width="1.5" height="1.5" fill="#d05a3a"/>
<rect x="445.75" y="77.17" width="1.5" height="1.5" fill="#d05a3a"/>
<rect x="427.75" y="83.03" width="1.5" height="1.5" fill="#e8a080"/>
<rect x="453.75" y="84.53" width="1.5" height="1.5" fill="#e8a080"/>
<rect x="452.00" y="83.08" width="1.2" height="3.2" fill="#8a8a8a"/>
<rect x="425.15" y="89.59" width="1.5" height="1.5" fill="#1a2e80"/>
<rect x="429.85" y="91.09" width="1.5" height="1.5" fill="#1a2e80"/>
<rect x="431.25" y="90.29" width="1.5" height="1.5" fill="#1a2e80"/>
<rect x="439.95" y="91.49" width="1.5" height="1.5" fill="#1a2e80"/>
<rect x="439.45" y="96.15" width="1.5" height="1.5" fill="#243a8a"/>
<rect x="441.25" y="97.65" width="1.5" height="1.5" fill="#243a8a"/>
<rect x="444.15" y="96.85" width="1.5" height="1.5" fill="#243a8a"/>
<rect x="440.95" y="102.71" width="1.5" height="1.5" fill="#34509a"/>
<rect x="442.25" y="104.21" width="1.5" height="1.5" fill="#34509a"/>
<rect x="444.15" y="103.41" width="1.5" height="1.5" fill="#34509a"/>
<rect x="446.85" y="104.61" width="1.5" height="1.5" fill="#34509a"/>
<rect x="437.85" y="109.27" width="1.5" height="1.5" fill="#4a64a8"/>
<rect x="440.95" y="110.77" width="1.5" height="1.5" fill="#4a64a8"/>
<rect x="442.25" y="109.97" width="1.5" height="1.5" fill="#4a64a8"/>
<rect x="445.25" y="111.17" width="1.5" height="1.5" fill="#4a64a8"/>
<rect x="448.45" y="115.83" width="1.5" height="1.5" fill="#6a80bc"/>
<rect x="451.55" y="117.33" width="1.5" height="1.5" fill="#6a80bc"/>
<rect x="456.85" y="116.53" width="1.5" height="1.5" fill="#6a80bc"/>
<rect x="454.40" y="115.88" width="1.2" height="3.2" fill="#8a8a8a"/>
<rect x="443.65" y="122.39" width="1.5" height="1.5" fill="#8ea0cc"/>
<rect x="449.95" y="123.89" width="1.5" height="1.5" fill="#8ea0cc"/>
<rect x="495.75" y="63.35" width="1.5" height="1.5" fill="#b01030"/>
<rect x="497.25" y="64.85" width="1.5" height="1.5" fill="#b01030"/>
<rect x="499.25" y="64.05" width="1.5" height="1.5" fill="#b01030"/>
<rect x="501.05" y="65.25" width="1.5" height="1.5" fill="#b01030"/>
<rect x="490.45" y="69.91" width="1.5" height="1.5" fill="#c02828"/>
<rect x="495.75" y="71.41" width="1.5" height="1.5" fill="#c02828"/>
<rect x="497.25" y="70.61" width="1.5" height="1.5" fill="#c02828"/>
<rect x="498.95" y="71.81" width="1.5" height="1.5" fill="#c02828"/>
<rect x="489.95" y="76.47" width="1.5" height="1.5" fill="#d05a3a"/>
<rect x="493.25" y="77.97" width="1.5" height="1.5" fill="#d05a3a"/>
<rect x="494.75" y="77.17" width="1.5" height="1.5" fill="#d05a3a"/>
<rect x="490.95" y="83.03" width="1.5" height="1.5" fill="#e8a080"/>
<rect x="494.15" y="84.53" width="1.5" height="1.5" fill="#e8a080"/>
<rect x="506.35" y="83.73" width="1.5" height="1.5" fill="#e8a080"/>
<rect x="494.40" y="83.08" width="1.2" height="3.2" fill="#8a8a8a"/>
<rect x="480.45" y="89.59" width="1.5" height="1.5" fill="#1a2e80"/>
<rect x="481.75" y="91.09" width="1.5" height="1.5" fill="#1a2e80"/>
<rect x="486.75" y="90.29" width="1.5" height="1.5" fill="#1a2e80"/>
<rect x="488.35" y="91.49" width="1.5" height="1.5" fill="#1a2e80"/>
<rect x="484.90" y="89.64" width="1.2" height="3.2" fill="#8a8a8a"/>
<rect x="494.25" y="96.15" width="1.5" height="1.5" fill="#243a8a"/>
<rect x="495.75" y="97.65" width="1.5" height="1.5" fill="#243a8a"/>
<rect x="497.75" y="96.85" width="1.5" height="1.5" fill="#243a8a"/>
<rect x="498.95" y="98.05" width="1.5" height="1.5" fill="#243a8a"/>
<rect x="489.95" y="102.71" width="1.5" height="1.5" fill="#34509a"/>
<rect x="498.45" y="104.21" width="1.5" height="1.5" fill="#34509a"/>
<rect x="499.95" y="103.41" width="1.5" height="1.5" fill="#34509a"/>
<rect x="494.65" y="109.27" width="1.5" height="1.5" fill="#4a64a8"/>
<rect x="496.25" y="110.77" width="1.5" height="1.5" fill="#4a64a8"/>
<rect x="499.95" y="109.97" width="1.5" height="1.5" fill="#4a64a8"/>
<rect x="496.85" y="115.83" width="1.5" height="1.5" fill="#6a80bc"/>
<rect x="498.95" y="117.33" width="1.5" height="1.5" fill="#6a80bc"/>
<rect x="501.05" y="116.53" width="1.5" height="1.5" fill="#6a80bc"/>
<rect x="493.65" y="122.39" width="1.5" height="1.5" fill="#8ea0cc"/>
<rect x="502.15" y="123.89" width="1.5" height="1.5" fill="#8ea0cc"/>
<rect x="499.40" y="122.44" width="1.2" height="3.2" fill="#8a8a8a"/>
<line x1="284.90" y1="130.60" x2="309.20" y2="130.60" stroke="#c4c4c4" stroke-width="0.9"/>
<polygon points="292.0,130.6 294.5,129.4 296.5,128.4 298.5,129.4 301.0,130.6 298.5,131.8 296.5,132.8 294.5,131.8" fill="#bcbcbc"/>
<line x1="296.50" y1="132.60" x2="296.50" y2="134.80" stroke="#888" stroke-width="0.8"/>
<line x1="334.90" y1="130.60" x2="355.00" y2="130.60" stroke="#c4c4c4" stroke-width="0.9"/>
<polygon points="342.0,130.6 344.6,129.4 346.6,128.4 348.6,129.4 352.1,130.6 348.6,131.8 346.6,132.8 344.6,131.8" fill="#bcbcbc"/>
<line x1="346.60" y1="132.60" x2="346.60" y2="134.80" stroke="#888" stroke-width="0.8"/>
<line x1="375.30" y1="130.60" x2="405.50" y2="130.60" stroke="#c4c4c4" stroke-width="0.9"/>
<polygon points="391.5,130.6 394.7,129.4 396.7,128.4 398.7,129.4 402.1,130.6 398.7,131.8 396.7,132.8 394.7,131.8" fill="#bcbcbc"/>
<line x1="396.70" y1="132.60" x2="396.70" y2="134.80" stroke="#888" stroke-width="0.8"/>
<line x1="420.00" y1="130.60" x2="460.80" y2="130.60" stroke="#c4c4c4" stroke-width="0.9"/>
<polygon points="440.9,130.6 444.8,129.4 446.8,128.4 448.8,129.4 452.6,130.6 448.8,131.8 446.8,132.8 444.8,131.8" fill="#bcbcbc"/>
<line x1="446.80" y1="132.60" x2="446.80" y2="134.80" stroke="#888" stroke-width="0.8"/>
<line x1="485.40" y1="130.60" x2="509.70" y2="130.60" stroke="#c4c4c4" stroke-width="0.9"/>
<polygon points="492.0,130.6 494.9,129.4 496.9,128.4 498.9,129.4 503.1,130.6 498.9,131.8 496.9,132.8 494.9,131.8" fill="#bcbcbc"/>
<line x1="496.90" y1="132.60" x2="496.90" y2="134.80" stroke="#888" stroke-width="0.8"/>
<rect x="468.00" y="130.10" width="1.00" height="1.00" fill="#bbb"/>
<rect x="460.20" y="130.10" width="1.00" height="1.00" fill="#bbb"/>
<rect x="277.00" y="130.10" width="1.00" height="1.00" fill="#bbb"/>
<text x="7.2" y="159.0" font-size="11" fill="#000" stroke="#000" stroke-width="0.12" font-weight="bold">C</text>
<text x="37.5" y="170.6" font-size="6" fill="#222" stroke="#222" stroke-width="0.26" text-anchor="end">gene</text>
<text x="37.5" y="182.2" font-size="6" fill="#222" stroke="#222" stroke-width="0.26" text-anchor="end">sgRNA</text>
<text x="52.2" y="170.6" font-size="6" fill="#222" stroke="#222" stroke-width="0.26" text-anchor="middle">Luc</text>
<text x="87.2" y="170.6" font-size="6.3" fill="#222" stroke="#222" stroke-width="0.26" text-anchor="middle">TP53</text>
<line x1="46.50" y1="172.50" x2="58.20" y2="172.50" stroke="#222" stroke-width="0.8"/>
<line x1="62.30" y1="172.50" x2="112.00" y2="172.50" stroke="#222" stroke-width="0.8"/>
<text x="48.5" y="182.4" font-size="6" fill="#222" stroke="#222" stroke-width="0.26" text-anchor="middle">1</text>
<text x="64.4" y="182.4" font-size="6" fill="#222" stroke="#222" stroke-width="0.26" text-anchor="middle">1</text>
<text x="83.5" y="182.4" font-size="6" fill="#222" stroke="#222" stroke-width="0.26" text-anchor="middle">2</text>
<text x="105.1" y="182.4" font-size="6" fill="#222" stroke="#222" stroke-width="0.26" text-anchor="middle">3</text>
<text x="116.3" y="192.1" font-size="6.2" fill="#222" stroke="#222" stroke-width="0.26">TP53</text>
<text x="116.3" y="206.0" font-size="6.2" fill="#222" stroke="#222" stroke-width="0.26">Vinculin</text>
<text x="153.1" y="170.6" font-size="6" fill="#222" stroke="#222" stroke-width="0.26" text-anchor="end">gene</text>
<text x="153.1" y="182.2" font-size="6" fill="#222" stroke="#222" stroke-width="0.26" text-anchor="end">sgRNA</text>
<text x="167.5" y="170.6" font-size="6" fill="#222" stroke="#222" stroke-width="0.26" text-anchor="middle">Luc</text>
<text x="195.3" y="170.6" font-size="6.3" fill="#222" stroke="#222" stroke-width="0.26" text-anchor="middle">FANCA</text>
<line x1="161.20" y1="172.50" x2="173.40" y2="172.50" stroke="#222" stroke-width="0.8"/>
<line x1="180.30" y1="172.50" x2="209.60" y2="172.50" stroke="#222" stroke-width="0.8"/>
<text x="171" y="182.4" font-size="6" fill="#222" stroke="#222" stroke-width="0.26" text-anchor="middle">1</text>
<text x="188.2" y="182.4" font-size="6" fill="#222" stroke="#222" stroke-width="0.26" text-anchor="middle">3</text>
<text x="204.3" y="182.4" font-size="6" fill="#222" stroke="#222" stroke-width="0.26" text-anchor="middle">4</text>
<text x="221.5" y="192.1" font-size="6.2" fill="#222" stroke="#222" stroke-width="0.26">FANCA</text>
<text x="221.5" y="206.0" font-size="6.2" fill="#222" stroke="#222" stroke-width="0.26">Vinculin</text>
<g>
<rect x="41.40" y="185.10" width="71.30" height="7.50" fill="#8c8c8c"/>
<rect x="55.40" y="185.60" width="3.40" height="6.50" fill="#b8b8b8" filter="url(#bl1)"/>
<rect x="73.80" y="185.60" width="5.00" height="6.50" fill="#b8b8b8" filter="url(#bl1)"/>
<rect x="92.40" y="185.60" width="5.20" height="6.50" fill="#b8b8b8" filter="url(#bl1)"/>
<path d="M43.0,186.4 L55.6,186.4 L55.6,191.6 L43.0,191.6Z" fill="#000000" filter="url(#bl2)"/>
<path d="M59.5,187.9 L73.2,187.9 L73.2,190.8 L59.5,190.8Z" fill="#747474" filter="url(#bl2)"/>
<path d="M79.2,187.9 L92.0,187.9 L92.0,190.8 L79.2,190.8Z" fill="#787878" filter="url(#bl2)"/>
<path d="M98.0,187.9 L111.0,187.9 L111.0,190.8 L98.0,190.8Z" fill="#6c6c6c" filter="url(#bl2)"/>
<rect x="41.80" y="185.50" width="70.50" height="6.70" fill="none" stroke="#3a3a3a" stroke-width="0.9"/>
</g>
<g>
<rect x="41.20" y="198.80" width="71.70" height="10.80" fill="#b0b0b0"/>
<rect x="55.60" y="199.30" width="3.00" height="9.80" fill="#d0d0d0" filter="url(#bl1)"/>
<rect x="73.00" y="199.30" width="3.60" height="9.80" fill="#d0d0d0" filter="url(#bl1)"/>
<rect x="91.40" y="199.30" width="3.40" height="9.80" fill="#d0d0d0" filter="url(#bl1)"/>
<path d="M42.4,202.2 Q42.4,201.6 43.6,201.6 L54.0,202.4 Q54.8,202.4 54.8,203.2 L54.8,204.4 Q54.8,205.2 54.0,205.2 L43.6,206.0 Q42.4,206.0 42.4,205.4Z" fill="#000000" filter="url(#bl2)"/>
<path d="M58.6,203.2 Q58.6,202.6 59.8,202.6 L70.6,203.4 Q71.4,203.4 71.4,204.2 L71.4,204.6 Q71.4,205.4 70.6,205.4 L59.8,206.6 Q58.6,206.6 58.6,206.0Z" fill="#000000" filter="url(#bl2)"/>
<path d="M76.6,202.8 Q76.6,202.2 77.8,202.2 L90.0,201.2 Q90.8,201.2 90.8,202.0 L90.8,203.0 Q90.8,203.8 90.0,203.8 L77.8,206.0 Q76.6,206.0 76.6,205.4Z" fill="#000000" filter="url(#bl2)"/>
<path d="M95.4,202.4 Q95.4,201.8 96.6,201.8 L108.6,200.8 Q109.4,200.8 109.4,201.6 L109.4,202.6 Q109.4,203.4 108.6,203.4 L96.6,205.2 Q95.4,205.2 95.4,204.6Z" fill="#000000" filter="url(#bl2)"/>
<rect x="41.60" y="199.20" width="70.90" height="10.00" fill="none" stroke="#3a3a3a" stroke-width="0.9"/>
</g>
<g>
<rect x="160.90" y="184.10" width="54.80" height="8.50" fill="#949494"/>
<rect x="176.60" y="184.60" width="4.60" height="7.50" fill="#b8b8b8" filter="url(#bl1)"/>
<rect x="195.80" y="184.60" width="5.00" height="7.50" fill="#b8b8b8" filter="url(#bl1)"/>
<path d="M163.0,185.9 L176.2,185.9 L176.2,191.0 L163.0,191.0Z" fill="#000000" filter="url(#bl2)"/>
<path d="M181.8,187.6 L195.0,187.6 L195.0,190.4 L181.8,190.4Z" fill="#747474" filter="url(#bl2)"/>
<path d="M201.0,187.6 L212.5,187.6 L212.5,190.4 L201.0,190.4Z" fill="#787878" filter="url(#bl2)"/>
<rect x="161.30" y="184.50" width="54.00" height="7.70" fill="none" stroke="#3a3a3a" stroke-width="0.9"/>
</g>
<g>
<rect x="160.90" y="198.20" width="54.80" height="10.60" fill="#a4a4a4"/>
<rect x="176.80" y="198.70" width="4.60" height="9.60" fill="#c2c2c2" filter="url(#bl1)"/>
<rect x="195.40" y="198.70" width="4.60" height="9.60" fill="#c2c2c2" filter="url(#bl1)"/>
<path d="M163.6,200.8 L176.8,200.8 L176.8,205.6 L163.6,205.6Z" fill="#000000" filter="url(#bl2)"/>
<path d="M181.4,200.9 L195.4,200.9 L195.4,205.4 L181.4,205.4Z" fill="#000000" filter="url(#bl2)"/>
<path d="M199.8,200.7 L213.0,200.7 L213.0,205.8 L199.8,205.8Z" fill="#000000" filter="url(#bl2)"/>
<rect x="161.30" y="198.60" width="54.00" height="9.80" fill="none" stroke="#3a3a3a" stroke-width="0.9"/>
</g>
<text x="7.4" y="235.2" font-size="11" fill="#000" stroke="#000" stroke-width="0.12" font-weight="bold">D</text>
<text x="82.4" y="248.2" font-size="8" fill="#000" stroke="#000" stroke-width="0.2" text-anchor="middle">Melphalan</text>
<line x1="41.40" y1="253.60" x2="41.40" y2="309.55" stroke="#000" stroke-width="1.3"/>
<line x1="40.75" y1="308.90" x2="123.60" y2="308.90" stroke="#000" stroke-width="1.3"/>
<line x1="38.40" y1="308.90" x2="41.40" y2="308.90" stroke="#000" stroke-width="1.1"/>
<text x="35.199999999999996" y="311.09999999999997" font-size="6.2" fill="#222" stroke="#222" stroke-width="0.26" text-anchor="end">0</text>
<line x1="38.40" y1="291.44" x2="41.40" y2="291.44" stroke="#000" stroke-width="1.1"/>
<text x="35.199999999999996" y="293.635" font-size="6.2" fill="#222" stroke="#222" stroke-width="0.26" text-anchor="end">50</text>
<line x1="38.40" y1="273.97" x2="41.40" y2="273.97" stroke="#000" stroke-width="1.1"/>
<text x="35.199999999999996" y="276.16999999999996" font-size="6.2" fill="#222" stroke="#222" stroke-width="0.26" text-anchor="end">100</text>
<line x1="38.40" y1="256.50" x2="41.40" y2="256.50" stroke="#000" stroke-width="1.1"/>
<text x="35.199999999999996" y="258.705" font-size="6.2" fill="#222" stroke="#222" stroke-width="0.26" text-anchor="end">150</text>
<line x1="41.40" y1="308.90" x2="41.40" y2="311.50" stroke="#000" stroke-width="1.1"/>
<text x="41.199999999999996" y="320.5" font-size="6.5" fill="#222" stroke="#222" stroke-width="0.26" text-anchor="middle">-3</text>
<line x1="61.10" y1="308.90" x2="61.10" y2="311.50" stroke="#000" stroke-width="1.1"/>
<text x="60.89999999999999" y="320.5" font-size="6.5" fill="#222" stroke="#222" stroke-width="0.26" text-anchor="middle">-2</text>
<line x1="80.80" y1="308.90" x2="80.80" y2="311.50" stroke="#000" stroke-width="1.1"/>
<text x="80.6" y="320.5" font-size="6.5" fill="#222" stroke="#222" stroke-width="0.26" text-anchor="middle">-1</text>
<line x1="100.50" y1="308.90" x2="100.50" y2="311.50" stroke="#000" stroke-width="1.1"/>
<text x="100.5" y="320.5" font-size="6.5" fill="#222" stroke="#222" stroke-width="0.26" text-anchor="middle">0</text>
<line x1="120.20" y1="308.90" x2="120.20" y2="311.50" stroke="#000" stroke-width="1.1"/>
<text x="120.19999999999999" y="320.5" font-size="6.5" fill="#222" stroke="#222" stroke-width="0.26" text-anchor="middle">1</text>
<text x="82.4" y="332.9" font-size="8.8" fill="#1a1a1a" stroke="#1a1a1a" stroke-width="0.12" text-anchor="middle" font-weight="bold" textLength="24.4" lengthAdjust="spacingAndGlyphs">Log[µM]</text>
<text x="18.099999999999998" y="281.4" font-size="8.4" fill="#1a1a1a" stroke="#1a1a1a" stroke-width="0.12" text-anchor="middle" font-weight="bold" textLength="28" lengthAdjust="spacingAndGlyphs" transform="rotate(-90 18.099999999999998 281.4)">Viability %</text>
<polyline points="50.56,272.57 51.06,272.57 51.55,272.57 52.05,272.57 52.54,272.57 53.04,272.58 53.53,272.58 54.03,272.58 54.52,272.58 55.02,272.58 55.51,272.58 56.01,272.58 56.50,272.58 57.00,272.58 57.49,272.58 57.98,272.58 58.48,272.58 58.97,272.58 59.47,272.58 59.96,272.59 60.46,272.59 60.95,272.59 61.45,272.59 61.94,272.59 62.44,272.60 62.93,272.60 63.43,272.60 63.92,272.61 64.42,272.61 64.91,272.62 65.41,272.62 65.90,272.63 66.40,272.64 66.89,272.65 67.39,272.66 67.88,272.67 68.38,272.68 68.87,272.69 69.37,272.71 69.86,272.73 70.36,272.74 70.85,272.77 71.35,272.79 71.84,272.82 72.34,272.85 72.83,272.89 73.33,272.93 73.82,272.97 74.32,273.02 74.81,273.08 75.31,273.15 75.80,273.22 76.30,273.30 76.79,273.39 77.29,273.49 77.78,273.61 78.28,273.74 78.77,273.89 79.27,274.05 79.76,274.23 80.26,274.43 80.75,274.66 81.25,274.91 81.74,275.19 82.24,275.50 82.73,275.84 83.23,276.22 83.72,276.64 84.22,277.09 84.71,277.60 85.21,278.14 85.70,278.74 86.20,279.38 86.69,280.07 87.19,280.81 87.68,281.60 88.18,282.44 88.67,283.33 89.17,284.26 89.66,285.23 90.16,286.23 90.65,287.26 91.15,288.31 91.64,289.38 92.14,290.45 92.63,291.52 93.13,292.58 93.62,293.62 94.12,294.64 94.61,295.62 95.11,296.58 95.60,297.49 96.10,298.35 96.59,299.17 97.09,299.94 97.58,300.66 98.08,301.33 98.57,301.96 99.07,302.53 99.56,303.05 100.06,303.54 100.55,303.98 101.05,304.38 101.54,304.74 102.04,305.07 102.53,305.36 103.03,305.63 103.52,305.87 104.02,306.08 104.51,306.28 105.01,306.45 105.50,306.61 106.00,306.74 106.49,306.87 106.99,306.98 107.48,307.07 107.98,307.16 108.47,307.24 108.97,307.31 109.46,307.37 109.96,307.42" fill="none" stroke="#4a9ae0" stroke-width="0.8"/>
<line x1="50.56" y1="273.02" x2="50.56" y2="277.02" stroke="#4a9ae0" stroke-width="0.5" opacity="0.8"/>
<rect x="49.66" y="274.12" width="1.8" height="1.8" fill="#4a9ae0"/>
<line x1="57.16" y1="270.92" x2="57.16" y2="274.92" stroke="#4a9ae0" stroke-width="0.5" opacity="0.8"/>
<rect x="56.26" y="272.02" width="1.8" height="1.8" fill="#4a9ae0"/>
<line x1="63.76" y1="270.57" x2="63.76" y2="274.57" stroke="#4a9ae0" stroke-width="0.5" opacity="0.8"/>
<rect x="62.86" y="271.67" width="1.8" height="1.8" fill="#4a9ae0"/>
<line x1="70.36" y1="271.97" x2="70.36" y2="275.97" stroke="#4a9ae0" stroke-width="0.5" opacity="0.8"/>
<rect x="69.46" y="273.07" width="1.8" height="1.8" fill="#4a9ae0"/>
<line x1="76.96" y1="273.02" x2="76.96" y2="277.02" stroke="#4a9ae0" stroke-width="0.5" opacity="0.8"/>
<rect x="76.06" y="274.12" width="1.8" height="1.8" fill="#4a9ae0"/>
<line x1="83.56" y1="276.86" x2="83.56" y2="280.86" stroke="#4a9ae0" stroke-width="0.5" opacity="0.8"/>
<rect x="82.66" y="277.96" width="1.8" height="1.8" fill="#4a9ae0"/>
<line x1="90.16" y1="283.85" x2="90.16" y2="287.85" stroke="#4a9ae0" stroke-width="0.5" opacity="0.8"/>
<rect x="89.26" y="284.95" width="1.8" height="1.8" fill="#4a9ae0"/>
<line x1="96.76" y1="297.12" x2="96.76" y2="301.12" stroke="#4a9ae0" stroke-width="0.5" opacity="0.8"/>
<rect x="95.86" y="298.22" width="1.8" height="1.8" fill="#4a9ae0"/>
<line x1="103.36" y1="301.66" x2="103.36" y2="305.66" stroke="#4a9ae0" stroke-width="0.5" opacity="0.8"/>
<rect x="102.46" y="302.76" width="1.8" height="1.8" fill="#4a9ae0"/>
<line x1="109.96" y1="306.50" x2="109.96" y2="308.50" stroke="#4a9ae0" stroke-width="0.5" opacity="0.8"/>
<rect x="109.06" y="306.60" width="1.8" height="1.8" fill="#4a9ae0"/>
<polyline points="50.56,271.18 51.06,271.18 51.55,271.18 52.05,271.18 52.54,271.18 53.04,271.18 53.53,271.18 54.03,271.18 54.52,271.18 55.02,271.18 55.51,271.18 56.01,271.18 56.50,271.18 57.00,271.18 57.49,271.18 57.98,271.19 58.48,271.19 58.97,271.19 59.47,271.19 59.96,271.19 60.46,271.19 60.95,271.20 61.45,271.20 61.94,271.20 62.44,271.20 62.93,271.21 63.43,271.21 63.92,271.21 64.42,271.22 64.91,271.23 65.41,271.23 65.90,271.24 66.40,271.25 66.89,271.25 67.39,271.26 67.88,271.27 68.38,271.29 68.87,271.30 69.37,271.32 69.86,271.33 70.36,271.35 70.85,271.37 71.35,271.40 71.84,271.42 72.34,271.45 72.83,271.49 73.33,271.53 73.82,271.57 74.32,271.62 74.81,271.67 75.31,271.73 75.80,271.80 76.30,271.87 76.79,271.96 77.29,272.05 77.78,272.15 78.28,272.27 78.77,272.40 79.27,272.54 79.76,272.70 80.26,272.88 80.75,273.08 81.25,273.30 81.74,273.54 82.24,273.81 82.73,274.11 83.23,274.44 83.72,274.80 84.22,275.19 84.71,275.62 85.21,276.09 85.70,276.60 86.20,277.16 86.69,277.76 87.19,278.41 87.68,279.10 88.18,279.83 88.67,280.62 89.17,281.45 89.66,282.32 90.16,283.22 90.65,284.17 91.15,285.14 91.64,286.14 92.14,287.16 92.63,288.20 93.13,289.24 93.62,290.28 94.12,291.31 94.61,292.33 95.11,293.32 95.60,294.29 96.10,295.23 96.59,296.14 97.09,297.00 97.58,297.82 98.08,298.60 98.57,299.33 99.07,300.02 99.56,300.66 100.06,301.25 100.55,301.80 101.05,302.30 101.54,302.77 102.04,303.20 102.53,303.59 103.03,303.94 103.52,304.26 104.02,304.56 104.51,304.82 105.01,305.06 105.50,305.28 106.00,305.47 106.49,305.65 106.99,305.81 107.48,305.95 107.98,306.08 108.47,306.19 108.97,306.29 109.46,306.39 109.96,306.47" fill="none" stroke="#1e2850" stroke-width="0.8"/>
<line x1="50.56" y1="271.27" x2="50.56" y2="275.27" stroke="#1e2850" stroke-width="0.5" opacity="0.8"/>
<rect x="49.66" y="272.37" width="1.8" height="1.8" fill="#1e2850"/>
<line x1="57.16" y1="269.52" x2="57.16" y2="273.52" stroke="#1e2850" stroke-width="0.5" opacity="0.8"/>
<rect x="56.26" y="270.62" width="1.8" height="1.8" fill="#1e2850"/>
<line x1="63.76" y1="268.83" x2="63.76" y2="272.83" stroke="#1e2850" stroke-width="0.5" opacity="0.8"/>
<rect x="62.86" y="269.93" width="1.8" height="1.8" fill="#1e2850"/>
<line x1="70.36" y1="268.48" x2="70.36" y2="272.48" stroke="#1e2850" stroke-width="0.5" opacity="0.8"/>
<rect x="69.46" y="269.58" width="1.8" height="1.8" fill="#1e2850"/>
<line x1="76.96" y1="269.87" x2="76.96" y2="273.87" stroke="#1e2850" stroke-width="0.5" opacity="0.8"/>
<rect x="76.06" y="270.97" width="1.8" height="1.8" fill="#1e2850"/>
<line x1="83.56" y1="275.11" x2="83.56" y2="279.11" stroke="#1e2850" stroke-width="0.5" opacity="0.8"/>
<rect x="82.66" y="276.21" width="1.8" height="1.8" fill="#1e2850"/>
<line x1="90.16" y1="281.05" x2="90.16" y2="285.05" stroke="#1e2850" stroke-width="0.5" opacity="0.8"/>
<rect x="89.26" y="282.15" width="1.8" height="1.8" fill="#1e2850"/>
<line x1="96.76" y1="294.33" x2="96.76" y2="298.33" stroke="#1e2850" stroke-width="0.5" opacity="0.8"/>
<rect x="95.86" y="295.43" width="1.8" height="1.8" fill="#1e2850"/>
<line x1="103.36" y1="301.66" x2="103.36" y2="305.66" stroke="#1e2850" stroke-width="0.5" opacity="0.8"/>
<rect x="102.46" y="302.76" width="1.8" height="1.8" fill="#1e2850"/>
<line x1="109.96" y1="305.90" x2="109.96" y2="308.40" stroke="#1e2850" stroke-width="0.5" opacity="0.8"/>
<rect x="109.06" y="306.25" width="1.8" height="1.8" fill="#1e2850"/>
<polyline points="50.56,270.48 51.06,270.48 51.55,270.48 52.05,270.48 52.54,270.48 53.04,270.48 53.53,270.48 54.03,270.48 54.52,270.48 55.02,270.48 55.51,270.48 56.01,270.48 56.50,270.48 57.00,270.48 57.49,270.48 57.98,270.48 58.48,270.48 58.97,270.48 59.47,270.48 59.96,270.48 60.46,270.48 60.95,270.48 61.45,270.48 61.94,270.48 62.44,270.48 62.93,270.48 63.43,270.48 63.92,270.48 64.42,270.48 64.91,270.48 65.41,270.48 65.90,270.48 66.40,270.48 66.89,270.48 67.39,270.48 67.88,270.48 68.38,270.48 68.87,270.49 69.37,270.49 69.86,270.49 70.36,270.49 70.85,270.49 71.35,270.49 71.84,270.50 72.34,270.50 72.83,270.50 73.33,270.51 73.82,270.51 74.32,270.52 74.81,270.53 75.31,270.53 75.80,270.54 76.30,270.55 76.79,270.56 77.29,270.58 77.78,270.59 78.28,270.61 78.77,270.63 79.27,270.66 79.76,270.69 80.26,270.72 80.75,270.76 81.25,270.80 81.74,270.85 82.24,270.91 82.73,270.98 83.23,271.06 83.72,271.15 84.22,271.25 84.71,271.37 85.21,271.51 85.70,271.66 86.20,271.84 86.69,272.05 87.19,272.29 87.68,272.56 88.18,272.87 88.67,273.22 89.17,273.61 89.66,274.06 90.16,274.56 90.65,275.13 91.15,275.76 91.64,276.46 92.14,277.23 92.63,278.08 93.13,279.00 93.62,280.00 94.12,281.07 94.61,282.21 95.11,283.42 95.60,284.67 96.10,285.97 96.59,287.30 97.09,288.64 97.58,289.99 98.08,291.32 98.57,292.63 99.07,293.89 99.56,295.11 100.06,296.27 100.55,297.36 101.05,298.38 101.54,299.32 102.04,300.19 102.53,300.98 103.03,301.70 103.52,302.35 104.02,302.93 104.51,303.45 105.01,303.91 105.50,304.32 106.00,304.68 106.49,305.00 106.99,305.28 107.48,305.52 107.98,305.74 108.47,305.92 108.97,306.09 109.46,306.23 109.96,306.35" fill="none" stroke="#8e7ad0" stroke-width="0.8"/>
<line x1="50.56" y1="273.87" x2="50.56" y2="276.87" stroke="#8e7ad0" stroke-width="0.5" opacity="0.8"/>
<rect x="49.66" y="274.47" width="1.8" height="1.8" fill="#8e7ad0"/>
<line x1="57.16" y1="270.37" x2="57.16" y2="273.37" stroke="#8e7ad0" stroke-width="0.5" opacity="0.8"/>
<rect x="56.26" y="270.97" width="1.8" height="1.8" fill="#8e7ad0"/>
<line x1="63.76" y1="268.28" x2="63.76" y2="271.28" stroke="#8e7ad0" stroke-width="0.5" opacity="0.8"/>
<rect x="62.86" y="268.88" width="1.8" height="1.8" fill="#8e7ad0"/>
<line x1="70.36" y1="270.02" x2="70.36" y2="273.02" stroke="#8e7ad0" stroke-width="0.5" opacity="0.8"/>
<rect x="69.46" y="270.62" width="1.8" height="1.8" fill="#8e7ad0"/>
<line x1="76.96" y1="271.07" x2="76.96" y2="274.07" stroke="#8e7ad0" stroke-width="0.5" opacity="0.8"/>
<rect x="76.06" y="271.67" width="1.8" height="1.8" fill="#8e7ad0"/>
<line x1="83.56" y1="267.23" x2="83.56" y2="270.23" stroke="#8e7ad0" stroke-width="0.5" opacity="0.8"/>
<rect x="82.66" y="267.83" width="1.8" height="1.8" fill="#8e7ad0"/>
<line x1="90.16" y1="272.82" x2="90.16" y2="275.82" stroke="#8e7ad0" stroke-width="0.5" opacity="0.8"/>
<rect x="89.26" y="273.42" width="1.8" height="1.8" fill="#8e7ad0"/>
<line x1="96.76" y1="285.74" x2="96.76" y2="288.74" stroke="#8e7ad0" stroke-width="0.5" opacity="0.8"/>
<rect x="95.86" y="286.34" width="1.8" height="1.8" fill="#8e7ad0"/>
<line x1="103.36" y1="301.11" x2="103.36" y2="304.11" stroke="#8e7ad0" stroke-width="0.5" opacity="0.8"/>
<rect x="102.46" y="301.71" width="1.8" height="1.8" fill="#8e7ad0"/>
<line x1="109.96" y1="304.61" x2="109.96" y2="307.61" stroke="#8e7ad0" stroke-width="0.5" opacity="0.8"/>
<rect x="109.06" y="305.21" width="1.8" height="1.8" fill="#8e7ad0"/>
<text x="203.6" y="248.2" font-size="8" fill="#000" stroke="#000" stroke-width="0.2" text-anchor="middle">Lenalidomide</text>
<line x1="162.60" y1="253.60" x2="162.60" y2="309.55" stroke="#000" stroke-width="1.3"/>
<line x1="161.95" y1="308.90" x2="244.80" y2="308.90" stroke="#000" stroke-width="1.3"/>
<line x1="159.60" y1="308.90" x2="162.60" y2="308.90" stroke="#000" stroke-width="1.1"/>
<text x="156.4" y="311.09999999999997" font-size="6.2" fill="#222" stroke="#222" stroke-width="0.26" text-anchor="end">0</text>
<line x1="159.60" y1="291.44" x2="162.60" y2="291.44" stroke="#000" stroke-width="1.1"/>
<text x="156.4" y="293.635" font-size="6.2" fill="#222" stroke="#222" stroke-width="0.26" text-anchor="end">50</text>
<line x1="159.60" y1="273.97" x2="162.60" y2="273.97" stroke="#000" stroke-width="1.1"/>
<text x="156.4" y="276.16999999999996" font-size="6.2" fill="#222" stroke="#222" stroke-width="0.26" text-anchor="end">100</text>
<line x1="159.60" y1="256.50" x2="162.60" y2="256.50" stroke="#000" stroke-width="1.1"/>
<text x="156.4" y="258.705" font-size="6.2" fill="#222" stroke="#222" stroke-width="0.26" text-anchor="end">150</text>
<line x1="162.60" y1="308.90" x2="162.60" y2="311.50" stroke="#000" stroke-width="1.1"/>
<text x="162.4" y="320.5" font-size="6.5" fill="#222" stroke="#222" stroke-width="0.26" text-anchor="middle">-3</text>
<line x1="182.30" y1="308.90" x2="182.30" y2="311.50" stroke="#000" stroke-width="1.1"/>
<text x="182.1" y="320.5" font-size="6.5" fill="#222" stroke="#222" stroke-width="0.26" text-anchor="middle">-2</text>
<line x1="202.00" y1="308.90" x2="202.00" y2="311.50" stroke="#000" stroke-width="1.1"/>
<text x="201.8" y="320.5" font-size="6.5" fill="#222" stroke="#222" stroke-width="0.26" text-anchor="middle">-1</text>
<line x1="221.70" y1="308.90" x2="221.70" y2="311.50" stroke="#000" stroke-width="1.1"/>
<text x="221.7" y="320.5" font-size="6.5" fill="#222" stroke="#222" stroke-width="0.26" text-anchor="middle">0</text>
<line x1="241.40" y1="308.90" x2="241.40" y2="311.50" stroke="#000" stroke-width="1.1"/>
<text x="241.39999999999998" y="320.5" font-size="6.5" fill="#222" stroke="#222" stroke-width="0.26" text-anchor="middle">1</text>
<text x="203.6" y="332.9" font-size="8.8" fill="#1a1a1a" stroke="#1a1a1a" stroke-width="0.12" text-anchor="middle" font-weight="bold" textLength="24.4" lengthAdjust="spacingAndGlyphs">Log[µM]</text>
<text x="139.29999999999998" y="281.4" font-size="8.4" fill="#1a1a1a" stroke="#1a1a1a" stroke-width="0.12" text-anchor="middle" font-weight="bold" textLength="28" lengthAdjust="spacingAndGlyphs" transform="rotate(-90 139.29999999999998 281.4)">Viability %</text>
<polyline points="176.09,270.73 176.58,270.80 177.07,270.87 177.56,270.95 178.05,271.04 178.54,271.14 179.03,271.24 179.52,271.35 180.01,271.46 180.50,271.58 180.99,271.72 181.47,271.86 181.96,272.01 182.45,272.17 182.94,272.34 183.43,272.53 183.92,272.72 184.41,272.93 184.90,273.16 185.39,273.39 185.88,273.64 186.36,273.91 186.85,274.19 187.34,274.49 187.83,274.81 188.32,275.14 188.81,275.50 189.30,275.87 189.79,276.26 190.28,276.67 190.77,277.11 191.26,277.56 191.74,278.03 192.23,278.53 192.72,279.04 193.21,279.58 193.70,280.13 194.19,280.71 194.68,281.30 195.17,281.92 195.66,282.55 196.15,283.20 196.63,283.86 197.12,284.53 197.61,285.22 198.10,285.92 198.59,286.63 199.08,287.35 199.57,288.07 200.06,288.80 200.55,289.52 201.04,290.25 201.53,290.97 202.01,291.69 202.50,292.40 202.99,293.11 203.48,293.80 203.97,294.49 204.46,295.16 204.95,295.81 205.44,296.45 205.93,297.07 206.42,297.68 206.90,298.26 207.39,298.83 207.88,299.37 208.37,299.90 208.86,300.40 209.35,300.89 209.84,301.35 210.33,301.79 210.82,302.21 211.31,302.62 211.80,303.00 212.28,303.36 212.77,303.70 213.26,304.03 213.75,304.34 214.24,304.63 214.73,304.90 215.22,305.16 215.71,305.41 216.20,305.64 216.69,305.85 217.17,306.05 217.66,306.24 218.15,306.42 218.64,306.59 219.13,306.75 219.62,306.89 220.11,307.03 220.60,307.16 221.09,307.28 221.58,307.39 222.07,307.49 222.55,307.59 223.04,307.68 223.53,307.77 224.02,307.84 224.51,307.92 225.00,307.99 225.49,308.05 225.98,308.11 226.47,308.17 226.96,308.22 227.45,308.27 227.93,308.31 228.42,308.35 228.91,308.39 229.40,308.43 229.89,308.46 230.38,308.49 230.87,308.52 231.36,308.55 231.85,308.57 232.34,308.60 232.82,308.62 233.31,308.64 233.80,308.66 234.29,308.67 234.78,308.69" fill="none" stroke="#8e7ad0" stroke-width="0.8"/>
<line x1="176.09" y1="267.13" x2="176.09" y2="273.13" stroke="#8e7ad0" stroke-width="0.5" opacity="0.8"/>
<rect x="175.19" y="269.23" width="1.8" height="1.8" fill="#8e7ad0"/>
<line x1="182.62" y1="268.52" x2="182.62" y2="274.52" stroke="#8e7ad0" stroke-width="0.5" opacity="0.8"/>
<rect x="181.72" y="270.62" width="1.8" height="1.8" fill="#8e7ad0"/>
<line x1="189.14" y1="273.07" x2="189.14" y2="279.07" stroke="#8e7ad0" stroke-width="0.5" opacity="0.8"/>
<rect x="188.24" y="275.17" width="1.8" height="1.8" fill="#8e7ad0"/>
<line x1="195.66" y1="280.75" x2="195.66" y2="286.75" stroke="#8e7ad0" stroke-width="0.5" opacity="0.8"/>
<rect x="194.76" y="282.85" width="1.8" height="1.8" fill="#8e7ad0"/>
<line x1="202.18" y1="290.18" x2="202.18" y2="296.18" stroke="#8e7ad0" stroke-width="0.5" opacity="0.8"/>
<rect x="201.28" y="292.28" width="1.8" height="1.8" fill="#8e7ad0"/>
<line x1="208.70" y1="298.22" x2="208.70" y2="304.22" stroke="#8e7ad0" stroke-width="0.5" opacity="0.8"/>
<rect x="207.80" y="300.32" width="1.8" height="1.8" fill="#8e7ad0"/>
<line x1="215.22" y1="302.91" x2="215.22" y2="307.91" stroke="#8e7ad0" stroke-width="0.5" opacity="0.8"/>
<rect x="214.32" y="304.51" width="1.8" height="1.8" fill="#8e7ad0"/>
<line x1="221.74" y1="307.10" x2="221.74" y2="308.60" stroke="#8e7ad0" stroke-width="0.5" opacity="0.8"/>
<rect x="220.84" y="306.95" width="1.8" height="1.8" fill="#8e7ad0"/>
<line x1="228.26" y1="307.70" x2="228.26" y2="308.70" stroke="#8e7ad0" stroke-width="0.5" opacity="0.8"/>
<rect x="227.36" y="307.30" width="1.8" height="1.8" fill="#8e7ad0"/>
<rect x="233.88" y="307.65" width="1.8" height="1.8" fill="#8e7ad0"/>
<polyline points="176.09,270.70 176.58,270.77 177.07,270.85 177.56,270.93 178.05,271.02 178.54,271.11 179.03,271.21 179.52,271.32 180.01,271.43 180.50,271.56 180.99,271.69 181.47,271.83 181.96,271.98 182.45,272.15 182.94,272.32 183.43,272.50 183.92,272.70 184.41,272.91 184.90,273.14 185.39,273.38 185.88,273.63 186.36,273.90 186.85,274.19 187.34,274.49 187.83,274.81 188.32,275.15 188.81,275.51 189.30,275.89 189.79,276.29 190.28,276.71 190.77,277.15 191.26,277.62 191.74,278.10 192.23,278.60 192.72,279.13 193.21,279.68 193.70,280.25 194.19,280.83 194.68,281.44 195.17,282.07 195.66,282.71 196.15,283.38 196.63,284.05 197.12,284.74 197.61,285.45 198.10,286.16 198.59,286.88 199.08,287.61 199.57,288.35 200.06,289.08 200.55,289.82 201.04,290.56 201.53,291.29 202.01,292.02 202.50,292.74 202.99,293.45 203.48,294.15 203.97,294.84 204.46,295.51 204.95,296.16 205.44,296.80 205.93,297.43 206.42,298.03 206.90,298.61 207.39,299.17 207.88,299.71 208.37,300.23 208.86,300.73 209.35,301.21 209.84,301.66 210.33,302.10 210.82,302.51 211.31,302.90 211.80,303.28 212.28,303.63 212.77,303.97 213.26,304.28 213.75,304.58 214.24,304.86 214.73,305.13 215.22,305.38 215.71,305.61 216.20,305.83 216.69,306.04 217.17,306.23 217.66,306.41 218.15,306.58 218.64,306.74 219.13,306.89 219.62,307.03 220.11,307.16 220.60,307.28 221.09,307.39 221.58,307.50 222.07,307.60 222.55,307.69 223.04,307.78 223.53,307.86 224.02,307.93 224.51,308.00 225.00,308.06 225.49,308.12 225.98,308.18 226.47,308.23 226.96,308.28 227.45,308.32 227.93,308.36 228.42,308.40 228.91,308.44 229.40,308.47 229.89,308.50 230.38,308.53 230.87,308.56 231.36,308.58 231.85,308.60 232.34,308.63 232.82,308.65 233.31,308.66 233.80,308.68 234.29,308.70 234.78,308.71" fill="none" stroke="#1e2850" stroke-width="0.8"/>
<line x1="176.09" y1="266.48" x2="176.09" y2="274.48" stroke="#1e2850" stroke-width="0.5" opacity="0.8"/>
<rect x="175.19" y="269.58" width="1.8" height="1.8" fill="#1e2850"/>
<line x1="182.62" y1="267.18" x2="182.62" y2="275.18" stroke="#1e2850" stroke-width="0.5" opacity="0.8"/>
<rect x="181.72" y="270.28" width="1.8" height="1.8" fill="#1e2850"/>
<line x1="189.14" y1="272.42" x2="189.14" y2="280.42" stroke="#1e2850" stroke-width="0.5" opacity="0.8"/>
<rect x="188.24" y="275.52" width="1.8" height="1.8" fill="#1e2850"/>
<line x1="195.66" y1="279.40" x2="195.66" y2="287.40" stroke="#1e2850" stroke-width="0.5" opacity="0.8"/>
<rect x="194.76" y="282.50" width="1.8" height="1.8" fill="#1e2850"/>
<line x1="202.18" y1="289.53" x2="202.18" y2="297.53" stroke="#1e2850" stroke-width="0.5" opacity="0.8"/>
<rect x="201.28" y="292.63" width="1.8" height="1.8" fill="#1e2850"/>
<line x1="208.70" y1="296.87" x2="208.70" y2="304.87" stroke="#1e2850" stroke-width="0.5" opacity="0.8"/>
<rect x="207.80" y="299.97" width="1.8" height="1.8" fill="#1e2850"/>
<line x1="215.22" y1="302.91" x2="215.22" y2="307.91" stroke="#1e2850" stroke-width="0.5" opacity="0.8"/>
<rect x="214.32" y="304.51" width="1.8" height="1.8" fill="#1e2850"/>
<line x1="221.74" y1="306.50" x2="221.74" y2="308.50" stroke="#1e2850" stroke-width="0.5" opacity="0.8"/>
<rect x="220.84" y="306.60" width="1.8" height="1.8" fill="#1e2850"/>
<line x1="228.26" y1="307.70" x2="228.26" y2="308.70" stroke="#1e2850" stroke-width="0.5" opacity="0.8"/>
<rect x="227.36" y="307.30" width="1.8" height="1.8" fill="#1e2850"/>
<rect x="233.88" y="307.65" width="1.8" height="1.8" fill="#1e2850"/>
<polyline points="176.09,270.65 176.58,270.71 177.07,270.78 177.56,270.86 178.05,270.94 178.54,271.02 179.03,271.12 179.52,271.22 180.01,271.32 180.50,271.44 180.99,271.56 181.47,271.69 181.96,271.83 182.45,271.98 182.94,272.14 183.43,272.31 183.92,272.49 184.41,272.68 184.90,272.89 185.39,273.11 185.88,273.34 186.36,273.59 186.85,273.85 187.34,274.13 187.83,274.43 188.32,274.74 188.81,275.07 189.30,275.42 189.79,275.79 190.28,276.18 190.77,276.59 191.26,277.01 191.74,277.46 192.23,277.93 192.72,278.42 193.21,278.93 193.70,279.47 194.19,280.02 194.68,280.59 195.17,281.18 195.66,281.79 196.15,282.42 196.63,283.06 197.12,283.72 197.61,284.39 198.10,285.08 198.59,285.78 199.08,286.48 199.57,287.20 200.06,287.92 200.55,288.64 201.04,289.37 201.53,290.10 202.01,290.82 202.50,291.54 202.99,292.26 203.48,292.96 203.97,293.66 204.46,294.34 204.95,295.02 205.44,295.68 205.93,296.32 206.42,296.94 206.90,297.55 207.39,298.14 207.88,298.71 208.37,299.26 208.86,299.79 209.35,300.30 209.84,300.79 210.33,301.25 210.82,301.70 211.31,302.13 211.80,302.53 212.28,302.92 212.77,303.29 213.26,303.63 213.75,303.96 214.24,304.28 214.73,304.57 215.22,304.85 215.71,305.11 216.20,305.36 216.69,305.59 217.17,305.81 217.66,306.01 218.15,306.21 218.64,306.39 219.13,306.56 219.62,306.71 220.11,306.86 220.60,307.00 221.09,307.13 221.58,307.25 222.07,307.37 222.55,307.47 223.04,307.57 223.53,307.66 224.02,307.75 224.51,307.83 225.00,307.90 225.49,307.97 225.98,308.04 226.47,308.10 226.96,308.15 227.45,308.21 227.93,308.26 228.42,308.30 228.91,308.34 229.40,308.38 229.89,308.42 230.38,308.45 230.87,308.49 231.36,308.51 231.85,308.54 232.34,308.57 232.82,308.59 233.31,308.61 233.80,308.63 234.29,308.65 234.78,308.67" fill="none" stroke="#4a9ae0" stroke-width="0.8"/>
<line x1="176.09" y1="263.78" x2="176.09" y2="275.78" stroke="#4a9ae0" stroke-width="0.5" opacity="0.8"/>
<rect x="175.19" y="268.88" width="1.8" height="1.8" fill="#4a9ae0"/>
<line x1="182.62" y1="265.87" x2="182.62" y2="277.87" stroke="#4a9ae0" stroke-width="0.5" opacity="0.8"/>
<rect x="181.72" y="270.97" width="1.8" height="1.8" fill="#4a9ae0"/>
<line x1="189.14" y1="271.46" x2="189.14" y2="283.46" stroke="#4a9ae0" stroke-width="0.5" opacity="0.8"/>
<rect x="188.24" y="276.56" width="1.8" height="1.8" fill="#4a9ae0"/>
<line x1="195.66" y1="279.15" x2="195.66" y2="291.15" stroke="#4a9ae0" stroke-width="0.5" opacity="0.8"/>
<rect x="194.76" y="284.25" width="1.8" height="1.8" fill="#4a9ae0"/>
<line x1="202.18" y1="288.23" x2="202.18" y2="300.23" stroke="#4a9ae0" stroke-width="0.5" opacity="0.8"/>
<rect x="201.28" y="293.33" width="1.8" height="1.8" fill="#4a9ae0"/>
<line x1="208.70" y1="296.91" x2="208.70" y2="306.91" stroke="#4a9ae0" stroke-width="0.5" opacity="0.8"/>
<rect x="207.80" y="301.01" width="1.8" height="1.8" fill="#4a9ae0"/>
<line x1="215.22" y1="303.51" x2="215.22" y2="308.01" stroke="#4a9ae0" stroke-width="0.5" opacity="0.8"/>
<rect x="214.32" y="304.86" width="1.8" height="1.8" fill="#4a9ae0"/>
<line x1="221.74" y1="306.50" x2="221.74" y2="308.50" stroke="#4a9ae0" stroke-width="0.5" opacity="0.8"/>
<rect x="220.84" y="306.60" width="1.8" height="1.8" fill="#4a9ae0"/>
<line x1="228.26" y1="307.70" x2="228.26" y2="308.70" stroke="#4a9ae0" stroke-width="0.5" opacity="0.8"/>
<rect x="227.36" y="307.30" width="1.8" height="1.8" fill="#4a9ae0"/>
<rect x="233.88" y="307.65" width="1.8" height="1.8" fill="#4a9ae0"/>
<line x1="232.60" y1="259.70" x2="237.60" y2="259.70" stroke="#4a9ae0" stroke-width="0.5" opacity="0.5"/>
<rect x="234.20" y="258.80" width="1.80" height="1.80" fill="#4a9ae0"/>
<text x="241.0" y="261.59999999999997" font-size="5.3" fill="#222" stroke="#222" stroke-width="0.26" textLength="41.1" lengthAdjust="spacingAndGlyphs">Control sgRNA#1</text>
<line x1="232.60" y1="266.70" x2="237.60" y2="266.70" stroke="#1e2850" stroke-width="0.5" opacity="0.5"/>
<rect x="234.20" y="265.80" width="1.80" height="1.80" fill="#1e2850"/>
<text x="241.0" y="268.59999999999997" font-size="5.3" fill="#222" stroke="#222" stroke-width="0.26" textLength="41.1" lengthAdjust="spacingAndGlyphs">Control sgRNA#2</text>
<line x1="232.60" y1="273.70" x2="237.60" y2="273.70" stroke="#8e7ad0" stroke-width="0.5" opacity="0.5"/>
<rect x="234.20" y="272.80" width="1.80" height="1.80" fill="#8e7ad0"/>
<text x="241.0" y="275.59999999999997" font-size="5.3" fill="#222" stroke="#222" stroke-width="0.26">TP53 sgRNA#3</text>
<text x="82.4" y="350.5" font-size="8" fill="#000" stroke="#000" stroke-width="0.2" text-anchor="middle">Melphalan</text>
<line x1="41.40" y1="355.00" x2="41.40" y2="410.95" stroke="#000" stroke-width="1.3"/>
<line x1="40.75" y1="410.30" x2="123.60" y2="410.30" stroke="#000" stroke-width="1.3"/>
<line x1="38.40" y1="410.30" x2="41.40" y2="410.30" stroke="#000" stroke-width="1.1"/>
<text x="35.199999999999996" y="412.5" font-size="6.2" fill="#222" stroke="#222" stroke-width="0.26" text-anchor="end">0</text>
<line x1="38.40" y1="392.84" x2="41.40" y2="392.84" stroke="#000" stroke-width="1.1"/>
<text x="35.199999999999996" y="395.035" font-size="6.2" fill="#222" stroke="#222" stroke-width="0.26" text-anchor="end">50</text>
<line x1="38.40" y1="375.37" x2="41.40" y2="375.37" stroke="#000" stroke-width="1.1"/>
<text x="35.199999999999996" y="377.57" font-size="6.2" fill="#222" stroke="#222" stroke-width="0.26" text-anchor="end">100</text>
<line x1="38.40" y1="357.91" x2="41.40" y2="357.91" stroke="#000" stroke-width="1.1"/>
<text x="35.199999999999996" y="360.105" font-size="6.2" fill="#222" stroke="#222" stroke-width="0.26" text-anchor="end">150</text>
<line x1="41.40" y1="410.30" x2="41.40" y2="412.90" stroke="#000" stroke-width="1.1"/>
<text x="41.199999999999996" y="421.90000000000003" font-size="6.5" fill="#222" stroke="#222" stroke-width="0.26" text-anchor="middle">-3</text>
<line x1="61.10" y1="410.30" x2="61.10" y2="412.90" stroke="#000" stroke-width="1.1"/>
<text x="60.89999999999999" y="421.90000000000003" font-size="6.5" fill="#222" stroke="#222" stroke-width="0.26" text-anchor="middle">-2</text>
<line x1="80.80" y1="410.30" x2="80.80" y2="412.90" stroke="#000" stroke-width="1.1"/>
<text x="80.6" y="421.90000000000003" font-size="6.5" fill="#222" stroke="#222" stroke-width="0.26" text-anchor="middle">-1</text>
<line x1="100.50" y1="410.30" x2="100.50" y2="412.90" stroke="#000" stroke-width="1.1"/>
<text x="100.5" y="421.90000000000003" font-size="6.5" fill="#222" stroke="#222" stroke-width="0.26" text-anchor="middle">0</text>
<line x1="120.20" y1="410.30" x2="120.20" y2="412.90" stroke="#000" stroke-width="1.1"/>
<text x="120.19999999999999" y="421.90000000000003" font-size="6.5" fill="#222" stroke="#222" stroke-width="0.26" text-anchor="middle">1</text>
<text x="82.4" y="434.3" font-size="8.8" fill="#1a1a1a" stroke="#1a1a1a" stroke-width="0.12" text-anchor="middle" font-weight="bold" textLength="24.4" lengthAdjust="spacingAndGlyphs">Log[µM]</text>
<text x="18.099999999999998" y="382.8" font-size="8.4" fill="#1a1a1a" stroke="#1a1a1a" stroke-width="0.12" text-anchor="middle" font-weight="bold" textLength="28" lengthAdjust="spacingAndGlyphs" transform="rotate(-90 18.099999999999998 382.8)">Viability %</text>
<polyline points="50.56,373.97 51.06,373.97 51.55,373.97 52.05,373.97 52.54,373.98 53.04,373.98 53.53,373.98 54.03,373.98 54.52,373.98 55.02,373.98 55.51,373.98 56.01,373.98 56.50,373.98 57.00,373.98 57.49,373.98 57.98,373.98 58.48,373.98 58.97,373.98 59.47,373.99 59.96,373.99 60.46,373.99 60.95,373.99 61.45,373.99 61.94,374.00 62.44,374.00 62.93,374.00 63.43,374.01 63.92,374.01 64.42,374.02 64.91,374.02 65.41,374.03 65.90,374.04 66.40,374.04 66.89,374.05 67.39,374.06 67.88,374.08 68.38,374.09 68.87,374.10 69.37,374.12 69.86,374.14 70.36,374.16 70.85,374.19 71.35,374.21 71.84,374.24 72.34,374.28 72.83,374.32 73.33,374.36 73.82,374.41 74.32,374.47 74.81,374.53 75.31,374.60 75.80,374.68 76.30,374.77 76.79,374.87 77.29,374.99 77.78,375.11 78.28,375.25 78.77,375.41 79.27,375.59 79.76,375.79 80.26,376.01 80.75,376.26 81.25,376.53 81.74,376.83 82.24,377.17 82.73,377.54 83.23,377.95 83.72,378.40 84.22,378.89 84.71,379.43 85.21,380.01 85.70,380.64 86.20,381.33 86.69,382.06 87.19,382.84 87.68,383.67 88.18,384.55 88.67,385.47 89.17,386.43 89.66,387.42 90.16,388.45 90.65,389.50 91.15,390.56 91.64,391.63 92.14,392.70 92.63,393.76 93.13,394.81 93.62,395.83 94.12,396.83 94.61,397.79 95.11,398.70 95.60,399.58 96.10,400.41 96.59,401.19 97.09,401.92 97.58,402.60 98.08,403.23 98.57,403.81 99.07,404.35 99.56,404.84 100.06,405.29 100.55,405.70 101.05,406.07 101.54,406.40 102.04,406.70 102.53,406.98 103.03,407.22 103.52,407.44 104.02,407.64 104.51,407.82 105.01,407.98 105.50,408.12 106.00,408.24 106.49,408.36 106.99,408.46 107.48,408.54 107.98,408.62 108.47,408.70 108.97,408.76 109.46,408.81 109.96,408.86" fill="none" stroke="#4a9ae0" stroke-width="0.8"/>
<line x1="50.56" y1="373.02" x2="50.56" y2="377.02" stroke="#4a9ae0" stroke-width="0.5" opacity="0.8"/>
<rect x="49.66" y="374.12" width="1.8" height="1.8" fill="#4a9ae0"/>
<line x1="57.16" y1="372.32" x2="57.16" y2="376.32" stroke="#4a9ae0" stroke-width="0.5" opacity="0.8"/>
<rect x="56.26" y="373.42" width="1.8" height="1.8" fill="#4a9ae0"/>
<line x1="63.76" y1="371.62" x2="63.76" y2="375.62" stroke="#4a9ae0" stroke-width="0.5" opacity="0.8"/>
<rect x="62.86" y="372.72" width="1.8" height="1.8" fill="#4a9ae0"/>
<line x1="70.36" y1="373.37" x2="70.36" y2="377.37" stroke="#4a9ae0" stroke-width="0.5" opacity="0.8"/>
<rect x="69.46" y="374.47" width="1.8" height="1.8" fill="#4a9ae0"/>
<line x1="76.96" y1="374.07" x2="76.96" y2="378.07" stroke="#4a9ae0" stroke-width="0.5" opacity="0.8"/>
<rect x="76.06" y="375.17" width="1.8" height="1.8" fill="#4a9ae0"/>
<line x1="83.56" y1="378.26" x2="83.56" y2="382.26" stroke="#4a9ae0" stroke-width="0.5" opacity="0.8"/>
<rect x="82.66" y="379.36" width="1.8" height="1.8" fill="#4a9ae0"/>
<line x1="90.16" y1="384.55" x2="90.16" y2="388.55" stroke="#4a9ae0" stroke-width="0.5" opacity="0.8"/>
<rect x="89.26" y="385.65" width="1.8" height="1.8" fill="#4a9ae0"/>
<line x1="96.76" y1="397.82" x2="96.76" y2="401.82" stroke="#4a9ae0" stroke-width="0.5" opacity="0.8"/>
<rect x="95.86" y="398.92" width="1.8" height="1.8" fill="#4a9ae0"/>
<line x1="103.36" y1="403.06" x2="103.36" y2="407.06" stroke="#4a9ae0" stroke-width="0.5" opacity="0.8"/>
<rect x="102.46" y="404.16" width="1.8" height="1.8" fill="#4a9ae0"/>
<line x1="109.96" y1="407.90" x2="109.96" y2="409.90" stroke="#4a9ae0" stroke-width="0.5" opacity="0.8"/>
<rect x="109.06" y="408.00" width="1.8" height="1.8" fill="#4a9ae0"/>
<polyline points="50.56,372.58 51.06,372.58 51.55,372.58 52.05,372.58 52.54,372.58 53.04,372.58 53.53,372.58 54.03,372.58 54.52,372.58 55.02,372.58 55.51,372.58 56.01,372.58 56.50,372.58 57.00,372.58 57.49,372.58 57.98,372.59 58.48,372.59 58.97,372.59 59.47,372.59 59.96,372.59 60.46,372.59 60.95,372.60 61.45,372.60 61.94,372.60 62.44,372.61 62.93,372.61 63.43,372.61 63.92,372.62 64.42,372.62 64.91,372.63 65.41,372.63 65.90,372.64 66.40,372.65 66.89,372.66 67.39,372.67 67.88,372.68 68.38,372.69 68.87,372.71 69.37,372.72 69.86,372.74 70.36,372.76 70.85,372.79 71.35,372.81 71.84,372.84 72.34,372.87 72.83,372.91 73.33,372.95 73.82,373.00 74.32,373.05 74.81,373.10 75.31,373.17 75.80,373.24 76.30,373.32 76.79,373.41 77.29,373.50 77.78,373.62 78.28,373.74 78.77,373.88 79.27,374.03 79.76,374.20 80.26,374.39 80.75,374.60 81.25,374.83 81.74,375.09 82.24,375.37 82.73,375.69 83.23,376.03 83.72,376.41 84.22,376.83 84.71,377.28 85.21,377.77 85.70,378.31 86.20,378.89 86.69,379.51 87.19,380.18 87.68,380.90 88.18,381.67 88.67,382.47 89.17,383.33 89.66,384.22 90.16,385.15 90.65,386.11 91.15,387.10 91.64,388.11 92.14,389.14 92.63,390.18 93.13,391.22 93.62,392.25 94.12,393.28 94.61,394.28 95.11,395.27 95.60,396.22 96.10,397.14 96.59,398.02 97.09,398.86 97.58,399.66 98.08,400.41 98.57,401.12 99.07,401.78 99.56,402.39 100.06,402.96 100.55,403.49 101.05,403.97 101.54,404.41 102.04,404.82 102.53,405.19 103.03,405.52 103.52,405.83 104.02,406.11 104.51,406.36 105.01,406.59 105.50,406.79 106.00,406.97 106.49,407.14 106.99,407.29 107.48,407.42 107.98,407.54 108.47,407.65 108.97,407.75 109.46,407.83 109.96,407.91" fill="none" stroke="#1e2850" stroke-width="0.8"/>
<line x1="50.56" y1="371.12" x2="50.56" y2="376.12" stroke="#1e2850" stroke-width="0.5" opacity="0.8"/>
<rect x="49.66" y="372.72" width="1.8" height="1.8" fill="#1e2850"/>
<line x1="57.16" y1="370.08" x2="57.16" y2="375.08" stroke="#1e2850" stroke-width="0.5" opacity="0.8"/>
<rect x="56.26" y="371.68" width="1.8" height="1.8" fill="#1e2850"/>
<line x1="63.76" y1="369.38" x2="63.76" y2="374.38" stroke="#1e2850" stroke-width="0.5" opacity="0.8"/>
<rect x="62.86" y="370.98" width="1.8" height="1.8" fill="#1e2850"/>
<line x1="70.36" y1="369.38" x2="70.36" y2="374.38" stroke="#1e2850" stroke-width="0.5" opacity="0.8"/>
<rect x="69.46" y="370.98" width="1.8" height="1.8" fill="#1e2850"/>
<line x1="76.96" y1="370.77" x2="76.96" y2="375.77" stroke="#1e2850" stroke-width="0.5" opacity="0.8"/>
<rect x="76.06" y="372.37" width="1.8" height="1.8" fill="#1e2850"/>
<line x1="83.56" y1="376.36" x2="83.56" y2="381.36" stroke="#1e2850" stroke-width="0.5" opacity="0.8"/>
<rect x="82.66" y="377.96" width="1.8" height="1.8" fill="#1e2850"/>
<line x1="90.16" y1="382.65" x2="90.16" y2="387.65" stroke="#1e2850" stroke-width="0.5" opacity="0.8"/>
<rect x="89.26" y="384.25" width="1.8" height="1.8" fill="#1e2850"/>
<line x1="96.76" y1="396.27" x2="96.76" y2="401.27" stroke="#1e2850" stroke-width="0.5" opacity="0.8"/>
<rect x="95.86" y="397.87" width="1.8" height="1.8" fill="#1e2850"/>
<line x1="103.36" y1="402.91" x2="103.36" y2="407.91" stroke="#1e2850" stroke-width="0.5" opacity="0.8"/>
<rect x="102.46" y="404.51" width="1.8" height="1.8" fill="#1e2850"/>
<line x1="109.96" y1="407.30" x2="109.96" y2="409.80" stroke="#1e2850" stroke-width="0.5" opacity="0.8"/>
<rect x="109.06" y="407.65" width="1.8" height="1.8" fill="#1e2850"/>
<polyline points="50.56,377.50 51.06,377.67 51.55,377.84 52.05,378.02 52.54,378.20 53.04,378.39 53.53,378.59 54.03,378.79 54.52,379.00 55.02,379.21 55.51,379.44 56.01,379.67 56.50,379.91 57.00,380.15 57.49,380.40 57.98,380.66 58.48,380.93 58.97,381.20 59.47,381.49 59.96,381.78 60.46,382.07 60.95,382.38 61.45,382.69 61.94,383.01 62.44,383.33 62.93,383.66 63.43,384.00 63.92,384.35 64.42,384.70 64.91,385.05 65.41,385.42 65.90,385.79 66.40,386.16 66.89,386.54 67.39,386.92 67.88,387.31 68.38,387.70 68.87,388.10 69.37,388.50 69.86,388.90 70.36,389.30 70.85,389.71 71.35,390.12 71.84,390.52 72.34,390.93 72.83,391.34 73.33,391.75 73.82,392.16 74.32,392.57 74.81,392.97 75.31,393.38 75.80,393.78 76.30,394.17 76.79,394.57 77.29,394.96 77.78,395.35 78.28,395.73 78.77,396.11 79.27,396.48 79.76,396.85 80.26,397.21 80.75,397.57 81.25,397.92 81.74,398.26 82.24,398.60 82.73,398.93 83.23,399.25 83.72,399.57 84.22,399.88 84.71,400.18 85.21,400.47 85.70,400.76 86.20,401.04 86.69,401.31 87.19,401.58 87.68,401.84 88.18,402.09 88.67,402.33 89.17,402.57 89.66,402.79 90.16,403.02 90.65,403.23 91.15,403.44 91.64,403.64 92.14,403.83 92.63,404.02 93.13,404.20 93.62,404.38 94.12,404.55 94.61,404.71 95.11,404.87 95.60,405.02 96.10,405.17 96.59,405.31 97.09,405.44 97.58,405.57 98.08,405.70 98.57,405.82 99.07,405.93 99.56,406.05 100.06,406.15 100.55,406.26 101.05,406.35 101.54,406.45 102.04,406.54 102.53,406.63 103.03,406.71 103.52,406.79 104.02,406.87 104.51,406.94 105.01,407.01 105.50,407.08 106.00,407.14 106.49,407.21 106.99,407.27 107.48,407.32 107.98,407.38 108.47,407.43 108.97,407.48 109.46,407.53 109.96,407.57" fill="none" stroke="#78b848" stroke-width="0.8"/>
<line x1="50.56" y1="373.07" x2="50.56" y2="379.07" stroke="#78b848" stroke-width="0.5" opacity="0.8"/>
<rect x="49.66" y="375.17" width="1.8" height="1.8" fill="#78b848"/>
<line x1="57.16" y1="378.66" x2="57.16" y2="384.66" stroke="#78b848" stroke-width="0.5" opacity="0.8"/>
<rect x="56.26" y="380.76" width="1.8" height="1.8" fill="#78b848"/>
<line x1="63.76" y1="381.80" x2="63.76" y2="387.80" stroke="#78b848" stroke-width="0.5" opacity="0.8"/>
<rect x="62.86" y="383.90" width="1.8" height="1.8" fill="#78b848"/>
<line x1="70.36" y1="388.09" x2="70.36" y2="394.09" stroke="#78b848" stroke-width="0.5" opacity="0.8"/>
<rect x="69.46" y="390.19" width="1.8" height="1.8" fill="#78b848"/>
<line x1="76.96" y1="393.33" x2="76.96" y2="399.33" stroke="#78b848" stroke-width="0.5" opacity="0.8"/>
<rect x="76.06" y="395.43" width="1.8" height="1.8" fill="#78b848"/>
<line x1="83.56" y1="397.52" x2="83.56" y2="403.52" stroke="#78b848" stroke-width="0.5" opacity="0.8"/>
<rect x="82.66" y="399.62" width="1.8" height="1.8" fill="#78b848"/>
<line x1="90.16" y1="397.52" x2="90.16" y2="403.52" stroke="#78b848" stroke-width="0.5" opacity="0.8"/>
<rect x="89.26" y="399.62" width="1.8" height="1.8" fill="#78b848"/>
<line x1="96.76" y1="400.31" x2="96.76" y2="406.31" stroke="#78b848" stroke-width="0.5" opacity="0.8"/>
<rect x="95.86" y="402.41" width="1.8" height="1.8" fill="#78b848"/>
<line x1="103.36" y1="402.76" x2="103.36" y2="408.76" stroke="#78b848" stroke-width="0.5" opacity="0.8"/>
<rect x="102.46" y="404.86" width="1.8" height="1.8" fill="#78b848"/>
<line x1="109.96" y1="406.70" x2="109.96" y2="409.70" stroke="#78b848" stroke-width="0.5" opacity="0.8"/>
<rect x="109.06" y="407.30" width="1.8" height="1.8" fill="#78b848"/>
<polyline points="50.56,376.17 51.06,376.29 51.55,376.41 52.05,376.53 52.54,376.67 53.04,376.81 53.53,376.95 54.03,377.10 54.52,377.25 55.02,377.41 55.51,377.58 56.01,377.75 56.50,377.94 57.00,378.12 57.49,378.32 57.98,378.52 58.48,378.73 58.97,378.94 59.47,379.16 59.96,379.39 60.46,379.63 60.95,379.88 61.45,380.13 61.94,380.39 62.44,380.66 62.93,380.94 63.43,381.22 63.92,381.52 64.42,381.82 64.91,382.13 65.41,382.44 65.90,382.77 66.40,383.10 66.89,383.44 67.39,383.78 67.88,384.14 68.38,384.50 68.87,384.86 69.37,385.24 69.86,385.62 70.36,386.00 70.85,386.40 71.35,386.79 71.84,387.19 72.34,387.60 72.83,388.01 73.33,388.42 73.82,388.84 74.32,389.25 74.81,389.67 75.31,390.10 75.80,390.52 76.30,390.94 76.79,391.37 77.29,391.79 77.78,392.22 78.28,392.64 78.77,393.06 79.27,393.48 79.76,393.89 80.26,394.30 80.75,394.71 81.25,395.11 81.74,395.51 82.24,395.91 82.73,396.30 83.23,396.68 83.72,397.06 84.22,397.43 84.71,397.80 85.21,398.15 85.70,398.51 86.20,398.85 86.69,399.19 87.19,399.52 87.68,399.84 88.18,400.15 88.67,400.46 89.17,400.76 89.66,401.05 90.16,401.33 90.65,401.60 91.15,401.87 91.64,402.13 92.14,402.38 92.63,402.62 93.13,402.86 93.62,403.09 94.12,403.31 94.61,403.52 95.11,403.73 95.60,403.92 96.10,404.12 96.59,404.30 97.09,404.48 97.58,404.65 98.08,404.82 98.57,404.98 99.07,405.13 99.56,405.28 100.06,405.42 100.55,405.55 101.05,405.68 101.54,405.81 102.04,405.93 102.53,406.05 103.03,406.16 103.52,406.26 104.02,406.36 104.51,406.46 105.01,406.56 105.50,406.64 106.00,406.73 106.49,406.81 106.99,406.89 107.48,406.97 107.98,407.04 108.47,407.11 108.97,407.17 109.46,407.24 109.96,407.30" fill="none" stroke="#c01840" stroke-width="0.8"/>
<line x1="50.56" y1="372.37" x2="50.56" y2="378.37" stroke="#c01840" stroke-width="0.5" opacity="0.8"/>
<rect x="49.66" y="374.47" width="1.8" height="1.8" fill="#c01840"/>
<line x1="57.16" y1="375.16" x2="57.16" y2="381.16" stroke="#c01840" stroke-width="0.5" opacity="0.8"/>
<rect x="56.26" y="377.26" width="1.8" height="1.8" fill="#c01840"/>
<line x1="63.76" y1="374.12" x2="63.76" y2="380.12" stroke="#c01840" stroke-width="0.5" opacity="0.8"/>
<rect x="62.86" y="376.22" width="1.8" height="1.8" fill="#c01840"/>
<line x1="70.36" y1="383.55" x2="70.36" y2="389.55" stroke="#c01840" stroke-width="0.5" opacity="0.8"/>
<rect x="69.46" y="385.65" width="1.8" height="1.8" fill="#c01840"/>
<line x1="76.96" y1="390.53" x2="76.96" y2="396.53" stroke="#c01840" stroke-width="0.5" opacity="0.8"/>
<rect x="76.06" y="392.63" width="1.8" height="1.8" fill="#c01840"/>
<line x1="83.56" y1="395.77" x2="83.56" y2="401.77" stroke="#c01840" stroke-width="0.5" opacity="0.8"/>
<rect x="82.66" y="397.87" width="1.8" height="1.8" fill="#c01840"/>
<line x1="90.16" y1="395.07" x2="90.16" y2="401.07" stroke="#c01840" stroke-width="0.5" opacity="0.8"/>
<rect x="89.26" y="397.17" width="1.8" height="1.8" fill="#c01840"/>
<line x1="96.76" y1="398.57" x2="96.76" y2="404.57" stroke="#c01840" stroke-width="0.5" opacity="0.8"/>
<rect x="95.86" y="400.67" width="1.8" height="1.8" fill="#c01840"/>
<line x1="103.36" y1="402.41" x2="103.36" y2="408.41" stroke="#c01840" stroke-width="0.5" opacity="0.8"/>
<rect x="102.46" y="404.51" width="1.8" height="1.8" fill="#c01840"/>
<line x1="109.96" y1="404.91" x2="109.96" y2="409.41" stroke="#c01840" stroke-width="0.5" opacity="0.8"/>
<rect x="109.06" y="406.26" width="1.8" height="1.8" fill="#c01840"/>
<text x="203.6" y="350.5" font-size="8" fill="#000" stroke="#000" stroke-width="0.2" text-anchor="middle">Lenalidomide</text>
<line x1="162.60" y1="355.00" x2="162.60" y2="410.95" stroke="#000" stroke-width="1.3"/>
<line x1="161.95" y1="410.30" x2="244.80" y2="410.30" stroke="#000" stroke-width="1.3"/>
<line x1="159.60" y1="410.30" x2="162.60" y2="410.30" stroke="#000" stroke-width="1.1"/>
<text x="156.4" y="412.5" font-size="6.2" fill="#222" stroke="#222" stroke-width="0.26" text-anchor="end">0</text>
<line x1="159.60" y1="392.84" x2="162.60" y2="392.84" stroke="#000" stroke-width="1.1"/>
<text x="156.4" y="395.035" font-size="6.2" fill="#222" stroke="#222" stroke-width="0.26" text-anchor="end">50</text>
<line x1="159.60" y1="375.37" x2="162.60" y2="375.37" stroke="#000" stroke-width="1.1"/>
<text x="156.4" y="377.57" font-size="6.2" fill="#222" stroke="#222" stroke-width="0.26" text-anchor="end">100</text>
<line x1="159.60" y1="357.91" x2="162.60" y2="357.91" stroke="#000" stroke-width="1.1"/>
<text x="156.4" y="360.105" font-size="6.2" fill="#222" stroke="#222" stroke-width="0.26" text-anchor="end">150</text>
<line x1="162.60" y1="410.30" x2="162.60" y2="412.90" stroke="#000" stroke-width="1.1"/>
<text x="162.4" y="421.90000000000003" font-size="6.5" fill="#222" stroke="#222" stroke-width="0.26" text-anchor="middle">-3</text>
<line x1="182.30" y1="410.30" x2="182.30" y2="412.90" stroke="#000" stroke-width="1.1"/>
<text x="182.1" y="421.90000000000003" font-size="6.5" fill="#222" stroke="#222" stroke-width="0.26" text-anchor="middle">-2</text>
<line x1="202.00" y1="410.30" x2="202.00" y2="412.90" stroke="#000" stroke-width="1.1"/>
<text x="201.8" y="421.90000000000003" font-size="6.5" fill="#222" stroke="#222" stroke-width="0.26" text-anchor="middle">-1</text>
<line x1="221.70" y1="410.30" x2="221.70" y2="412.90" stroke="#000" stroke-width="1.1"/>
<text x="221.7" y="421.90000000000003" font-size="6.5" fill="#222" stroke="#222" stroke-width="0.26" text-anchor="middle">0</text>
<line x1="241.40" y1="410.30" x2="241.40" y2="412.90" stroke="#000" stroke-width="1.1"/>
<text x="241.39999999999998" y="421.90000000000003" font-size="6.5" fill="#222" stroke="#222" stroke-width="0.26" text-anchor="middle">1</text>
<text x="203.6" y="434.3" font-size="8.8" fill="#1a1a1a" stroke="#1a1a1a" stroke-width="0.12" text-anchor="middle" font-weight="bold" textLength="24.4" lengthAdjust="spacingAndGlyphs">Log[µM]</text>
<text x="139.29999999999998" y="382.8" font-size="8.4" fill="#1a1a1a" stroke="#1a1a1a" stroke-width="0.12" text-anchor="middle" font-weight="bold" textLength="28" lengthAdjust="spacingAndGlyphs" transform="rotate(-90 139.29999999999998 382.8)">Viability %</text>
<polyline points="176.09,372.05 176.58,372.11 177.07,372.18 177.56,372.26 178.05,372.34 178.54,372.42 179.03,372.52 179.52,372.62 180.01,372.72 180.50,372.84 180.99,372.96 181.47,373.09 181.96,373.23 182.45,373.38 182.94,373.54 183.43,373.71 183.92,373.89 184.41,374.08 184.90,374.29 185.39,374.51 185.88,374.74 186.36,374.99 186.85,375.25 187.34,375.53 187.83,375.83 188.32,376.14 188.81,376.47 189.30,376.82 189.79,377.19 190.28,377.58 190.77,377.99 191.26,378.41 191.74,378.86 192.23,379.33 192.72,379.82 193.21,380.33 193.70,380.87 194.19,381.42 194.68,381.99 195.17,382.58 195.66,383.19 196.15,383.82 196.63,384.46 197.12,385.12 197.61,385.79 198.10,386.48 198.59,387.18 199.08,387.88 199.57,388.60 200.06,389.32 200.55,390.04 201.04,390.77 201.53,391.50 202.01,392.22 202.50,392.94 202.99,393.66 203.48,394.36 203.97,395.06 204.46,395.74 204.95,396.42 205.44,397.08 205.93,397.72 206.42,398.34 206.90,398.95 207.39,399.54 207.88,400.11 208.37,400.66 208.86,401.19 209.35,401.70 209.84,402.19 210.33,402.65 210.82,403.10 211.31,403.53 211.80,403.93 212.28,404.32 212.77,404.69 213.26,405.03 213.75,405.36 214.24,405.68 214.73,405.97 215.22,406.25 215.71,406.51 216.20,406.76 216.69,406.99 217.17,407.21 217.66,407.41 218.15,407.61 218.64,407.79 219.13,407.96 219.62,408.11 220.11,408.26 220.60,408.40 221.09,408.53 221.58,408.65 222.07,408.77 222.55,408.87 223.04,408.97 223.53,409.06 224.02,409.15 224.51,409.23 225.00,409.30 225.49,409.37 225.98,409.44 226.47,409.50 226.96,409.55 227.45,409.61 227.93,409.66 228.42,409.70 228.91,409.74 229.40,409.78 229.89,409.82 230.38,409.85 230.87,409.89 231.36,409.91 231.85,409.94 232.34,409.97 232.82,409.99 233.31,410.01 233.80,410.03 234.29,410.05 234.78,410.07" fill="none" stroke="#4a9ae0" stroke-width="0.8"/>
<line x1="176.09" y1="366.18" x2="176.09" y2="376.18" stroke="#4a9ae0" stroke-width="0.5" opacity="0.8"/>
<rect x="175.19" y="370.28" width="1.8" height="1.8" fill="#4a9ae0"/>
<line x1="182.62" y1="368.27" x2="182.62" y2="378.27" stroke="#4a9ae0" stroke-width="0.5" opacity="0.8"/>
<rect x="181.72" y="372.37" width="1.8" height="1.8" fill="#4a9ae0"/>
<line x1="189.14" y1="373.86" x2="189.14" y2="383.86" stroke="#4a9ae0" stroke-width="0.5" opacity="0.8"/>
<rect x="188.24" y="377.96" width="1.8" height="1.8" fill="#4a9ae0"/>
<line x1="195.66" y1="381.55" x2="195.66" y2="391.55" stroke="#4a9ae0" stroke-width="0.5" opacity="0.8"/>
<rect x="194.76" y="385.65" width="1.8" height="1.8" fill="#4a9ae0"/>
<line x1="202.18" y1="390.63" x2="202.18" y2="400.63" stroke="#4a9ae0" stroke-width="0.5" opacity="0.8"/>
<rect x="201.28" y="394.73" width="1.8" height="1.8" fill="#4a9ae0"/>
<line x1="208.70" y1="398.31" x2="208.70" y2="408.31" stroke="#4a9ae0" stroke-width="0.5" opacity="0.8"/>
<rect x="207.80" y="402.41" width="1.8" height="1.8" fill="#4a9ae0"/>
<line x1="215.22" y1="404.91" x2="215.22" y2="409.41" stroke="#4a9ae0" stroke-width="0.5" opacity="0.8"/>
<rect x="214.32" y="406.26" width="1.8" height="1.8" fill="#4a9ae0"/>
<line x1="221.74" y1="407.90" x2="221.74" y2="409.90" stroke="#4a9ae0" stroke-width="0.5" opacity="0.8"/>
<rect x="220.84" y="408.00" width="1.8" height="1.8" fill="#4a9ae0"/>
<line x1="228.26" y1="409.10" x2="228.26" y2="410.10" stroke="#4a9ae0" stroke-width="0.5" opacity="0.8"/>
<rect x="227.36" y="408.70" width="1.8" height="1.8" fill="#4a9ae0"/>
<rect x="233.88" y="409.05" width="1.8" height="1.8" fill="#4a9ae0"/>
<polyline points="176.09,372.10 176.58,372.17 177.07,372.25 177.56,372.33 178.05,372.42 178.54,372.51 179.03,372.61 179.52,372.72 180.01,372.83 180.50,372.96 180.99,373.09 181.47,373.23 181.96,373.38 182.45,373.55 182.94,373.72 183.43,373.90 183.92,374.10 184.41,374.31 184.90,374.54 185.39,374.78 185.88,375.03 186.36,375.30 186.85,375.59 187.34,375.89 187.83,376.21 188.32,376.55 188.81,376.91 189.30,377.29 189.79,377.69 190.28,378.11 190.77,378.55 191.26,379.02 191.74,379.50 192.23,380.00 192.72,380.53 193.21,381.08 193.70,381.65 194.19,382.23 194.68,382.84 195.17,383.47 195.66,384.11 196.15,384.78 196.63,385.45 197.12,386.14 197.61,386.85 198.10,387.56 198.59,388.28 199.08,389.01 199.57,389.75 200.06,390.48 200.55,391.22 201.04,391.96 201.53,392.69 202.01,393.42 202.50,394.14 202.99,394.85 203.48,395.55 203.97,396.24 204.46,396.91 204.95,397.56 205.44,398.20 205.93,398.83 206.42,399.43 206.90,400.01 207.39,400.57 207.88,401.11 208.37,401.63 208.86,402.13 209.35,402.61 209.84,403.06 210.33,403.50 210.82,403.91 211.31,404.30 211.80,404.68 212.28,405.03 212.77,405.37 213.26,405.68 213.75,405.98 214.24,406.26 214.73,406.53 215.22,406.78 215.71,407.01 216.20,407.23 216.69,407.44 217.17,407.63 217.66,407.81 218.15,407.98 218.64,408.14 219.13,408.29 219.62,408.43 220.11,408.56 220.60,408.68 221.09,408.79 221.58,408.90 222.07,409.00 222.55,409.09 223.04,409.18 223.53,409.26 224.02,409.33 224.51,409.40 225.00,409.46 225.49,409.52 225.98,409.58 226.47,409.63 226.96,409.68 227.45,409.72 227.93,409.76 228.42,409.80 228.91,409.84 229.40,409.87 229.89,409.90 230.38,409.93 230.87,409.96 231.36,409.98 231.85,410.00 232.34,410.03 232.82,410.05 233.31,410.06 233.80,410.08 234.29,410.10 234.78,410.11" fill="none" stroke="#1e2850" stroke-width="0.8"/>
<line x1="176.09" y1="367.88" x2="176.09" y2="375.88" stroke="#1e2850" stroke-width="0.5" opacity="0.8"/>
<rect x="175.19" y="370.98" width="1.8" height="1.8" fill="#1e2850"/>
<line x1="182.62" y1="368.58" x2="182.62" y2="376.58" stroke="#1e2850" stroke-width="0.5" opacity="0.8"/>
<rect x="181.72" y="371.68" width="1.8" height="1.8" fill="#1e2850"/>
<line x1="189.14" y1="373.82" x2="189.14" y2="381.82" stroke="#1e2850" stroke-width="0.5" opacity="0.8"/>
<rect x="188.24" y="376.92" width="1.8" height="1.8" fill="#1e2850"/>
<line x1="195.66" y1="380.80" x2="195.66" y2="388.80" stroke="#1e2850" stroke-width="0.5" opacity="0.8"/>
<rect x="194.76" y="383.90" width="1.8" height="1.8" fill="#1e2850"/>
<line x1="202.18" y1="390.93" x2="202.18" y2="398.93" stroke="#1e2850" stroke-width="0.5" opacity="0.8"/>
<rect x="201.28" y="394.03" width="1.8" height="1.8" fill="#1e2850"/>
<line x1="208.70" y1="398.27" x2="208.70" y2="406.27" stroke="#1e2850" stroke-width="0.5" opacity="0.8"/>
<rect x="207.80" y="401.37" width="1.8" height="1.8" fill="#1e2850"/>
<line x1="215.22" y1="404.31" x2="215.22" y2="409.31" stroke="#1e2850" stroke-width="0.5" opacity="0.8"/>
<rect x="214.32" y="405.91" width="1.8" height="1.8" fill="#1e2850"/>
<line x1="221.74" y1="407.90" x2="221.74" y2="409.90" stroke="#1e2850" stroke-width="0.5" opacity="0.8"/>
<rect x="220.84" y="408.00" width="1.8" height="1.8" fill="#1e2850"/>
<line x1="228.26" y1="409.10" x2="228.26" y2="410.10" stroke="#1e2850" stroke-width="0.5" opacity="0.8"/>
<rect x="227.36" y="408.70" width="1.8" height="1.8" fill="#1e2850"/>
<rect x="233.88" y="409.05" width="1.8" height="1.8" fill="#1e2850"/>
<polyline points="176.09,372.73 176.58,372.79 177.07,372.86 177.56,372.94 178.05,373.01 178.54,373.10 179.03,373.19 179.52,373.29 180.01,373.39 180.50,373.51 180.99,373.63 181.47,373.75 181.96,373.89 182.45,374.04 182.94,374.19 183.43,374.36 183.92,374.54 184.41,374.73 184.90,374.93 185.39,375.15 185.88,375.38 186.36,375.62 186.85,375.88 187.34,376.15 187.83,376.44 188.32,376.75 188.81,377.08 189.30,377.42 189.79,377.78 190.28,378.16 190.77,378.56 191.26,378.98 191.74,379.42 192.23,379.89 192.72,380.37 193.21,380.87 193.70,381.39 194.19,381.93 194.68,382.49 195.17,383.07 195.66,383.67 196.15,384.29 196.63,384.92 197.12,385.57 197.61,386.23 198.10,386.90 198.59,387.59 199.08,388.28 199.57,388.99 200.06,389.69 200.55,390.41 201.04,391.12 201.53,391.83 202.01,392.54 202.50,393.25 202.99,393.95 203.48,394.65 203.97,395.33 204.46,396.00 204.95,396.66 205.44,397.31 205.93,397.94 206.42,398.56 206.90,399.15 207.39,399.73 207.88,400.29 208.37,400.83 208.86,401.35 209.35,401.85 209.84,402.33 210.33,402.79 210.82,403.23 211.31,403.65 211.80,404.05 212.28,404.43 212.77,404.79 213.26,405.13 213.75,405.45 214.24,405.76 214.73,406.05 215.22,406.32 215.71,406.58 216.20,406.82 216.69,407.05 217.17,407.26 217.66,407.46 218.15,407.65 218.64,407.83 219.13,408.00 219.62,408.15 220.11,408.30 220.60,408.43 221.09,408.56 221.58,408.68 222.07,408.79 222.55,408.90 223.04,408.99 223.53,409.08 224.02,409.17 224.51,409.25 225.00,409.32 225.49,409.39 225.98,409.45 226.47,409.51 226.96,409.57 227.45,409.62 227.93,409.67 228.42,409.71 228.91,409.75 229.40,409.79 229.89,409.83 230.38,409.86 230.87,409.89 231.36,409.92 231.85,409.95 232.34,409.97 232.82,410.00 233.31,410.02 233.80,410.04 234.29,410.06 234.78,410.07" fill="none" stroke="#78b848" stroke-width="0.8"/>
<line x1="176.09" y1="368.58" x2="176.09" y2="376.58" stroke="#78b848" stroke-width="0.5" opacity="0.8"/>
<rect x="175.19" y="371.68" width="1.8" height="1.8" fill="#78b848"/>
<line x1="182.62" y1="369.97" x2="182.62" y2="377.97" stroke="#78b848" stroke-width="0.5" opacity="0.8"/>
<rect x="181.72" y="373.07" width="1.8" height="1.8" fill="#78b848"/>
<line x1="189.14" y1="373.12" x2="189.14" y2="381.12" stroke="#78b848" stroke-width="0.5" opacity="0.8"/>
<rect x="188.24" y="376.22" width="1.8" height="1.8" fill="#78b848"/>
<line x1="195.66" y1="381.85" x2="195.66" y2="389.85" stroke="#78b848" stroke-width="0.5" opacity="0.8"/>
<rect x="194.76" y="384.95" width="1.8" height="1.8" fill="#78b848"/>
<line x1="202.18" y1="390.23" x2="202.18" y2="398.23" stroke="#78b848" stroke-width="0.5" opacity="0.8"/>
<rect x="201.28" y="393.33" width="1.8" height="1.8" fill="#78b848"/>
<line x1="208.70" y1="398.62" x2="208.70" y2="406.62" stroke="#78b848" stroke-width="0.5" opacity="0.8"/>
<rect x="207.80" y="401.72" width="1.8" height="1.8" fill="#78b848"/>
<line x1="215.22" y1="404.31" x2="215.22" y2="409.31" stroke="#78b848" stroke-width="0.5" opacity="0.8"/>
<rect x="214.32" y="405.91" width="1.8" height="1.8" fill="#78b848"/>
<line x1="221.74" y1="407.90" x2="221.74" y2="409.90" stroke="#78b848" stroke-width="0.5" opacity="0.8"/>
<rect x="220.84" y="408.00" width="1.8" height="1.8" fill="#78b848"/>
<line x1="228.26" y1="409.10" x2="228.26" y2="410.10" stroke="#78b848" stroke-width="0.5" opacity="0.8"/>
<rect x="227.36" y="408.70" width="1.8" height="1.8" fill="#78b848"/>
<rect x="233.88" y="409.05" width="1.8" height="1.8" fill="#78b848"/>
<polyline points="176.09,372.78 176.58,372.85 177.07,372.92 177.56,373.00 178.05,373.08 178.54,373.17 179.03,373.27 179.52,373.37 180.01,373.48 180.50,373.60 180.99,373.73 181.47,373.86 181.96,374.01 182.45,374.16 182.94,374.33 183.43,374.50 183.92,374.69 184.41,374.89 184.90,375.10 185.39,375.33 185.88,375.57 186.36,375.83 186.85,376.10 187.34,376.39 187.83,376.69 188.32,377.01 188.81,377.35 189.30,377.71 189.79,378.09 190.28,378.48 190.77,378.90 191.26,379.34 191.74,379.79 192.23,380.27 192.72,380.77 193.21,381.29 193.70,381.83 194.19,382.38 194.68,382.96 195.17,383.56 195.66,384.17 196.15,384.80 196.63,385.44 197.12,386.10 197.61,386.77 198.10,387.46 198.59,388.15 199.08,388.85 199.57,389.56 200.06,390.27 200.55,390.98 201.04,391.69 201.53,392.41 202.01,393.11 202.50,393.82 202.99,394.51 203.48,395.20 203.97,395.87 204.46,396.54 204.95,397.19 205.44,397.82 205.93,398.44 206.42,399.04 206.90,399.62 207.39,400.18 207.88,400.73 208.37,401.25 208.86,401.76 209.35,402.24 209.84,402.70 210.33,403.15 210.82,403.57 211.31,403.97 211.80,404.35 212.28,404.72 212.77,405.06 213.26,405.39 213.75,405.70 214.24,405.99 214.73,406.27 215.22,406.53 215.71,406.77 216.20,407.01 216.69,407.22 217.17,407.43 217.66,407.62 218.15,407.80 218.64,407.97 219.13,408.12 219.62,408.27 220.11,408.41 220.60,408.54 221.09,408.66 221.58,408.77 222.07,408.88 222.55,408.98 223.04,409.07 223.53,409.15 224.02,409.23 224.51,409.31 225.00,409.38 225.49,409.44 225.98,409.50 226.47,409.56 226.96,409.61 227.45,409.66 227.93,409.70 228.42,409.75 228.91,409.79 229.40,409.82 229.89,409.86 230.38,409.89 230.87,409.92 231.36,409.94 231.85,409.97 232.34,409.99 232.82,410.01 233.31,410.03 233.80,410.05 234.29,410.07 234.78,410.09" fill="none" stroke="#c01840" stroke-width="0.8"/>
<line x1="176.09" y1="367.27" x2="176.09" y2="379.27" stroke="#c01840" stroke-width="0.5" opacity="0.8"/>
<rect x="175.19" y="372.37" width="1.8" height="1.8" fill="#c01840"/>
<line x1="182.62" y1="368.67" x2="182.62" y2="380.67" stroke="#c01840" stroke-width="0.5" opacity="0.8"/>
<rect x="181.72" y="373.77" width="1.8" height="1.8" fill="#c01840"/>
<line x1="189.14" y1="372.51" x2="189.14" y2="384.51" stroke="#c01840" stroke-width="0.5" opacity="0.8"/>
<rect x="188.24" y="377.61" width="1.8" height="1.8" fill="#c01840"/>
<line x1="195.66" y1="378.10" x2="195.66" y2="390.10" stroke="#c01840" stroke-width="0.5" opacity="0.8"/>
<rect x="194.76" y="383.20" width="1.8" height="1.8" fill="#c01840"/>
<line x1="202.18" y1="389.28" x2="202.18" y2="401.28" stroke="#c01840" stroke-width="0.5" opacity="0.8"/>
<rect x="201.28" y="394.38" width="1.8" height="1.8" fill="#c01840"/>
<line x1="208.70" y1="397.71" x2="208.70" y2="408.21" stroke="#c01840" stroke-width="0.5" opacity="0.8"/>
<rect x="207.80" y="402.06" width="1.8" height="1.8" fill="#c01840"/>
<line x1="215.22" y1="404.91" x2="215.22" y2="409.41" stroke="#c01840" stroke-width="0.5" opacity="0.8"/>
<rect x="214.32" y="406.26" width="1.8" height="1.8" fill="#c01840"/>
<line x1="221.74" y1="407.90" x2="221.74" y2="409.90" stroke="#c01840" stroke-width="0.5" opacity="0.8"/>
<rect x="220.84" y="408.00" width="1.8" height="1.8" fill="#c01840"/>
<line x1="228.26" y1="409.10" x2="228.26" y2="410.10" stroke="#c01840" stroke-width="0.5" opacity="0.8"/>
<rect x="227.36" y="408.70" width="1.8" height="1.8" fill="#c01840"/>
<rect x="233.88" y="409.05" width="1.8" height="1.8" fill="#c01840"/>
<line x1="232.60" y1="362.90" x2="237.60" y2="362.90" stroke="#4a9ae0" stroke-width="0.5" opacity="0.5"/>
<rect x="234.20" y="362.00" width="1.80" height="1.80" fill="#4a9ae0"/>
<text x="241.0" y="364.79999999999995" font-size="5.3" fill="#222" stroke="#222" stroke-width="0.26" textLength="41.1" lengthAdjust="spacingAndGlyphs">Control sgRNA#1</text>
<line x1="232.60" y1="369.80" x2="237.60" y2="369.80" stroke="#1e2850" stroke-width="0.5" opacity="0.5"/>
<rect x="234.20" y="368.90" width="1.80" height="1.80" fill="#1e2850"/>
<text x="241.0" y="371.69999999999993" font-size="5.3" fill="#222" stroke="#222" stroke-width="0.26" textLength="41.1" lengthAdjust="spacingAndGlyphs">Control sgRNA#2</text>
<line x1="232.60" y1="376.70" x2="237.60" y2="376.70" stroke="#78b848" stroke-width="0.5" opacity="0.5"/>
<rect x="234.20" y="375.80" width="1.80" height="1.80" fill="#78b848"/>
<text x="241.0" y="378.59999999999997" font-size="5.3" fill="#222" stroke="#222" stroke-width="0.26">FANCA sgRNA3#</text>
<line x1="232.60" y1="383.60" x2="237.60" y2="383.60" stroke="#c01840" stroke-width="0.5" opacity="0.5"/>
<rect x="234.20" y="382.70" width="1.80" height="1.80" fill="#c01840"/>
<text x="241.0" y="385.49999999999994" font-size="5.3" fill="#222" stroke="#222" stroke-width="0.26">FANCA sgRNA4#</text>
<text x="307.7" y="159.2" font-size="11" fill="#000" stroke="#000" stroke-width="0.12" font-weight="bold">E</text>
<text x="407.3" y="172.7" font-size="8.4" fill="#000" stroke="#000" stroke-width="0.2">ID8</text>
<line x1="356.50" y1="182.10" x2="401.20" y2="182.10" stroke="#000" stroke-width="1.1"/>
<path d="M400.4,180.4 L404.2,182.1 L400.4,183.8Z" fill="#000"/>
<line x1="408.80" y1="182.10" x2="442.20" y2="182.10" stroke="#000" stroke-width="1.1"/>
<path d="M441.4,180.4 L445.2,182.1 L441.4,183.8Z" fill="#000"/>
<line x1="447.90" y1="182.10" x2="466.80" y2="182.10" stroke="#000" stroke-width="1.1"/>
<path d="M466.0,180.4 L469.8,182.1 L466.0,183.8Z" fill="#000"/>
<text x="352.0" y="190.8" font-size="5.3" fill="#222" stroke="#222" stroke-width="0.26">D</text>
<text x="358.3" y="190.8" font-size="5.3" fill="#222" stroke="#222" stroke-width="0.26">Thal</text>
<text x="358.3" y="196.9" font-size="5.3" fill="#222" stroke="#222" stroke-width="0.26">Dex</text>
<text x="408.8" y="190.8" font-size="5.3" fill="#222" stroke="#222" stroke-width="0.26">Bort</text>
<text x="408.8" y="196.9" font-size="5.3" fill="#222" stroke="#222" stroke-width="0.26">Mel</text>
<text x="408.8" y="203.1" font-size="5.3" fill="#222" stroke="#222" stroke-width="0.26">Pred</text>
<text x="447.9" y="190.8" font-size="5.3" fill="#222" stroke="#222" stroke-width="0.26">Len</text>
<text x="447.9" y="196.9" font-size="5.3" fill="#222" stroke="#222" stroke-width="0.26">Dex</text>
<text x="403.5" y="211.0" font-size="5.3" fill="#222" stroke="#222" stroke-width="0.26">R1</text>
<text x="466.3" y="214.8" font-size="5.3" fill="#222" stroke="#222" stroke-width="0.26">R2</text>
<line x1="354.00" y1="194.00" x2="354.00" y2="201.00" stroke="#000" stroke-width="1.0"/>
<path d="M352.4,200.4 L354.0,204.0 L355.6,200.4Z" fill="#000"/>
<line x1="406.40" y1="214.20" x2="406.40" y2="221.40" stroke="#000" stroke-width="1.0"/>
<path d="M404.8,220.8 L406.4,224.4 L408.0,220.8Z" fill="#000"/>
<line x1="469.30" y1="218.00" x2="469.30" y2="225.00" stroke="#000" stroke-width="1.0"/>
<path d="M467.7,224.4 L469.3,228.0 L470.9,224.4Z" fill="#000"/>
<line x1="343.70" y1="182.20" x2="343.70" y2="277.40" stroke="#000" stroke-width="1.3"/>
<line x1="340.90" y1="184.60" x2="343.70" y2="184.60" stroke="#000" stroke-width="1.1"/>
<text x="338.3" y="186.79999999999998" font-size="6.3" fill="#222" stroke="#222" stroke-width="0.26" text-anchor="end">15</text>
<line x1="340.90" y1="214.80" x2="343.70" y2="214.80" stroke="#000" stroke-width="1.1"/>
<text x="338.3" y="217.0" font-size="6.3" fill="#222" stroke="#222" stroke-width="0.26" text-anchor="end">10</text>
<line x1="340.90" y1="245.00" x2="343.70" y2="245.00" stroke="#000" stroke-width="1.1"/>
<text x="338.3" y="247.2" font-size="6.3" fill="#222" stroke="#222" stroke-width="0.26" text-anchor="end">5</text>
<line x1="340.90" y1="275.20" x2="343.70" y2="275.20" stroke="#000" stroke-width="1.1"/>
<text x="338.3" y="277.4" font-size="6.3" fill="#222" stroke="#222" stroke-width="0.26" text-anchor="end">0</text>
<text x="325.5" y="229.8" font-size="8.4" fill="#1a1a1a" stroke="#1a1a1a" stroke-width="0.12" text-anchor="middle" font-weight="bold" textLength="38" lengthAdjust="spacingAndGlyphs" transform="rotate(-90 325.5 229.8)">Paraprotein g/l</text>
<path d="M354.2,274.8 L354.2,208.7 L370.4,251 L404.6,268.8 L407.3,263 L438,262.8 L449.6,257 L477.3,262.8 L477.3,274.8Z" fill="#c4c0e0"/>
<rect x="324.30" y="279.20" width="166.50" height="61.30" fill="url(#fg)"/>
<path d="M326.60,309.20 C327.33,308.75 329.22,308.40 331.00,306.50 C332.78,304.60 335.23,300.47 337.30,297.80 C339.37,295.13 341.45,292.53 343.40,290.50 C345.35,288.47 347.17,286.80 349.00,285.60 C350.83,284.40 352.57,283.37 354.40,283.30 C356.23,283.23 357.78,283.25 360.00,285.20 C362.22,287.15 365.37,292.07 367.70,295.00 C370.03,297.93 371.82,300.90 374.00,302.80 C376.18,304.70 378.63,306.50 380.80,306.40 C382.97,306.30 385.08,304.10 387.00,302.20 C388.92,300.30 390.47,297.50 392.30,295.00 C394.13,292.50 395.95,289.15 398.00,287.20 C400.05,285.25 402.60,283.50 404.60,283.30 C406.60,283.10 408.27,284.05 410.00,286.00 C411.73,287.95 413.50,292.33 415.00,295.00 C416.50,297.67 417.75,300.28 419.00,302.00 C420.25,303.72 420.67,305.25 422.50,305.30 C424.33,305.35 427.32,303.62 430.00,302.30 C432.68,300.98 435.60,299.25 438.60,297.40 C441.60,295.55 444.77,293.03 448.00,291.20 C451.23,289.37 454.40,287.77 458.00,286.40 C461.60,285.03 466.43,283.23 469.60,283.00 C472.77,282.77 475.10,283.83 477.00,285.00 C478.90,286.17 479.72,287.75 481.00,290.00 C482.28,292.25 483.73,295.32 484.70,298.50 C485.67,301.68 486.45,307.33 486.80,309.10 L486.80,309.10 C486.45,310.92 485.67,316.68 484.70,320.00 C483.73,323.32 482.28,326.58 481.00,329.00 C479.72,331.42 478.90,333.13 477.00,334.50 C475.10,335.87 472.77,337.18 469.60,337.20 C466.43,337.22 461.60,335.80 458.00,334.60 C454.40,333.40 451.23,331.73 448.00,330.00 C444.77,328.27 441.60,326.28 438.60,324.20 C435.60,322.12 432.68,319.37 430.00,317.50 C427.32,315.63 424.33,313.25 422.50,313.00 C420.67,312.75 420.25,314.17 419.00,316.00 C417.75,317.83 416.50,321.13 415.00,324.00 C413.50,326.87 411.73,331.12 410.00,333.20 C408.27,335.28 406.60,336.62 404.60,336.50 C402.60,336.38 400.05,334.58 398.00,332.50 C395.95,330.42 394.13,326.83 392.30,324.00 C390.47,321.17 388.92,317.62 387.00,315.50 C385.08,313.38 382.97,311.22 380.80,311.30 C378.63,311.38 376.18,313.80 374.00,316.00 C371.82,318.20 370.03,321.42 367.70,324.50 C365.37,327.58 362.22,332.50 360.00,334.50 C357.78,336.50 356.23,336.62 354.40,336.50 C352.57,336.38 350.83,335.17 349.00,333.80 C347.17,332.43 345.35,330.47 343.40,328.30 C341.45,326.13 339.37,323.52 337.30,320.80 C335.23,318.08 332.78,313.93 331.00,312.00 C329.22,310.07 327.33,309.67 326.60,309.20 Z" fill="#8b8b8b"/>
<path d="M348.00,309.50 C348.33,308.30 349.33,304.35 350.00,302.30 C350.67,300.25 351.17,298.53 352.00,297.20 C352.83,295.87 353.67,294.62 355.00,294.30 C356.33,293.98 357.88,294.22 360.00,295.30 C362.12,296.38 365.37,299.02 367.70,300.80 C370.03,302.58 371.82,304.80 374.00,306.00 C376.18,307.20 378.63,308.17 380.80,308.00 C382.97,307.83 385.08,306.33 387.00,305.00 C388.92,303.67 390.47,301.50 392.30,300.00 C394.13,298.50 395.95,296.83 398.00,296.00 C400.05,295.17 402.60,294.83 404.60,295.00 C406.60,295.17 408.27,295.83 410.00,297.00 C411.73,298.17 413.50,300.57 415.00,302.00 C416.50,303.43 417.75,304.80 419.00,305.60 C420.25,306.40 420.67,306.83 422.50,306.80 C424.33,306.77 427.32,306.00 430.00,305.40 C432.68,304.80 435.60,304.27 438.60,303.20 C441.60,302.13 444.77,300.28 448.00,299.00 C451.23,297.72 454.40,296.52 458.00,295.50 C461.60,294.48 466.43,293.07 469.60,292.90 C472.77,292.73 475.10,293.65 477.00,294.50 C478.90,295.35 479.72,296.58 481.00,298.00 C482.28,299.42 483.78,301.15 484.70,303.00 C485.62,304.85 486.20,308.08 486.50,309.10 L486.50,309.10 C486.20,310.08 485.62,313.15 484.70,315.00 C483.78,316.85 482.28,318.67 481.00,320.20 C479.72,321.73 478.90,323.23 477.00,324.20 C475.10,325.17 472.77,326.03 469.60,326.00 C466.43,325.97 461.60,324.73 458.00,324.00 C454.40,323.27 451.23,322.50 448.00,321.60 C444.77,320.70 441.60,319.83 438.60,318.60 C435.60,317.37 432.68,315.33 430.00,314.20 C427.32,313.07 424.33,311.80 422.50,311.80 C420.67,311.80 420.25,313.13 419.00,314.20 C417.75,315.27 416.50,316.77 415.00,318.20 C413.50,319.63 411.73,321.73 410.00,322.80 C408.27,323.87 406.60,324.63 404.60,324.60 C402.60,324.57 400.05,323.70 398.00,322.60 C395.95,321.50 394.13,319.57 392.30,318.00 C390.47,316.43 388.92,314.43 387.00,313.20 C385.08,311.97 382.97,310.70 380.80,310.60 C378.63,310.50 376.18,311.33 374.00,312.60 C371.82,313.87 370.03,316.43 367.70,318.20 C365.37,319.97 362.12,322.20 360.00,323.20 C357.88,324.20 356.33,324.43 355.00,324.20 C353.67,323.97 352.83,323.03 352.00,321.80 C351.17,320.57 350.67,318.85 350.00,316.80 C349.33,314.75 348.33,310.72 348.00,309.50 Z" fill="#cc1119"/>
<path d="M349.20,312.60 C349.50,312.03 350.37,310.08 351.00,309.20 C351.63,308.32 352.17,307.73 353.00,307.30 C353.83,306.87 354.50,306.70 356.00,306.60 C357.50,306.50 360.00,306.57 362.00,306.70 C364.00,306.83 366.17,307.08 368.00,307.40 C369.83,307.72 371.63,308.23 373.00,308.60 C374.37,308.97 375.67,309.43 376.20,309.60 L376.20,309.60 C375.67,309.93 374.37,310.70 373.00,311.60 C371.63,312.50 369.83,314.00 368.00,315.00 C366.17,316.00 364.00,316.97 362.00,317.60 C360.00,318.23 357.50,318.68 356.00,318.80 C354.50,318.92 353.83,318.70 353.00,318.30 C352.17,317.90 351.63,317.35 351.00,316.40 C350.37,315.45 349.50,313.23 349.20,312.60 Z" fill="#d44c18"/>
<path d="M349.4,312.6 C350.5,310 351.5,308.3 354.3,307.6 L354.3,317.8 C352,317 350.5,315 349.4,312.6Z" fill="#ea7a30" opacity="0.6"/>
<path d="M351.40,300.10 C352.17,300.12 354.23,300.00 356.00,300.20 C357.77,300.40 360.00,300.82 362.00,301.30 C364.00,301.78 366.00,302.38 368.00,303.10 C370.00,303.82 372.33,304.92 374.00,305.60 C375.67,306.28 376.87,306.83 378.00,307.20 C379.13,307.57 379.47,308.03 380.80,307.80 C382.13,307.57 384.08,307.00 386.00,305.80 C387.92,304.60 390.30,302.02 392.30,300.60 C394.30,299.18 395.95,298.02 398.00,297.30 C400.05,296.58 402.60,296.25 404.60,296.30 C406.60,296.35 408.27,296.65 410.00,297.60 C411.73,298.55 413.50,300.67 415.00,302.00 C416.50,303.33 417.75,304.75 419.00,305.60 C420.25,306.45 420.67,306.97 422.50,307.10 C424.33,307.23 427.32,306.78 430.00,306.40 C432.68,306.02 435.60,305.60 438.60,304.80 C441.60,304.00 444.77,302.57 448.00,301.60 C451.23,300.63 454.40,299.77 458.00,299.00 C461.60,298.23 466.43,297.07 469.60,297.00 C472.77,296.93 475.10,297.87 477.00,298.60 C478.90,299.33 479.72,300.33 481.00,301.40 C482.28,302.47 483.78,303.73 484.70,305.00 C485.62,306.27 486.20,308.33 486.50,309.00 L486.50,309.00 C486.20,308.60 485.62,307.50 484.70,306.60 C483.78,305.70 482.28,304.43 481.00,303.60 C479.72,302.77 478.90,302.15 477.00,301.60 C475.10,301.05 472.77,300.30 469.60,300.30 C466.43,300.30 461.60,301.08 458.00,301.60 C454.40,302.12 451.23,302.57 448.00,303.40 C444.77,304.23 441.60,305.85 438.60,306.60 C435.60,307.35 432.68,307.57 430.00,307.90 C427.32,308.23 424.33,308.32 422.50,308.60 C420.67,308.88 420.25,309.32 419.00,309.60 C417.75,309.88 416.50,310.12 415.00,310.30 C413.50,310.48 411.73,310.63 410.00,310.70 C408.27,310.77 406.60,310.73 404.60,310.70 C402.60,310.67 400.05,310.60 398.00,310.50 C395.95,310.40 394.30,310.23 392.30,310.10 C390.30,309.97 387.92,309.83 386.00,309.70 C384.08,309.57 382.13,309.47 380.80,309.30 C379.47,309.13 379.13,309.03 378.00,308.70 C376.87,308.37 375.67,307.93 374.00,307.30 C372.33,306.67 370.00,305.60 368.00,304.90 C366.00,304.20 364.00,303.60 362.00,303.10 C360.00,302.60 357.77,302.18 356.00,301.90 C354.23,301.62 352.17,301.48 351.40,301.40 Z" fill="#c2d42c"/>
<path d="M351.40,300.60 C352.17,300.65 354.23,300.65 356.00,300.90 C357.77,301.15 360.00,301.60 362.00,302.10 C364.00,302.60 366.00,303.18 368.00,303.90 C370.00,304.62 372.33,305.73 374.00,306.40 C375.67,307.07 377.33,307.65 378.00,307.90" fill="none" stroke="#d6ee30" stroke-width="1.0"/>
<path d="M401.30,317.90 C401.85,317.02 403.15,313.62 404.60,312.60 C406.05,311.58 408.27,312.03 410.00,311.80 C411.73,311.57 413.50,311.43 415.00,311.20 C416.50,310.97 417.75,310.70 419.00,310.40 C420.25,310.10 420.67,309.67 422.50,309.40 C424.33,309.13 427.32,309.10 430.00,308.80 C432.68,308.50 435.60,308.07 438.60,307.60 C441.60,307.13 444.77,306.48 448.00,306.00 C451.23,305.52 454.40,305.08 458.00,304.70 C461.60,304.32 466.43,303.78 469.60,303.70 C472.77,303.62 475.10,303.90 477.00,304.20 C478.90,304.50 479.72,304.97 481.00,305.50 C482.28,306.03 483.78,306.82 484.70,307.40 C485.62,307.98 486.20,308.73 486.50,309.00 L486.50,309.00 C486.20,309.53 485.62,310.83 484.70,312.20 C483.78,313.57 482.28,315.87 481.00,317.20 C479.72,318.53 478.90,319.40 477.00,320.20 C475.10,321.00 472.77,321.83 469.60,322.00 C466.43,322.17 461.60,321.60 458.00,321.20 C454.40,320.80 451.23,320.37 448.00,319.60 C444.77,318.83 441.60,317.80 438.60,316.60 C435.60,315.40 432.68,313.28 430.00,312.40 C427.32,311.52 424.33,310.93 422.50,311.30 C420.67,311.67 420.25,313.38 419.00,314.60 C417.75,315.82 416.50,317.40 415.00,318.60 C413.50,319.80 411.73,321.02 410.00,321.80 C408.27,322.58 406.05,323.95 404.60,323.30 C403.15,322.65 401.85,318.80 401.30,317.90 Z" fill="#f6d822"/>
<path d="M402.70,317.90 C403.25,317.68 404.78,317.03 406.00,316.60 C407.22,316.17 408.50,315.82 410.00,315.30 C411.50,314.78 413.50,314.12 415.00,313.50 C416.50,312.88 417.75,312.18 419.00,311.60 C420.25,311.02 420.67,310.35 422.50,310.00 C424.33,309.65 427.32,309.67 430.00,309.50 C432.68,309.33 435.60,309.17 438.60,309.00 C441.60,308.83 444.77,308.65 448.00,308.50 C451.23,308.35 454.40,308.22 458.00,308.10 C461.60,307.98 466.43,307.82 469.60,307.80 C472.77,307.78 475.10,307.92 477.00,308.00 C478.90,308.08 479.72,308.18 481.00,308.30 C482.28,308.42 483.78,308.58 484.70,308.70 C485.62,308.82 486.20,308.95 486.50,309.00 L486.50,309.00 C486.20,309.37 485.62,310.27 484.70,311.20 C483.78,312.13 482.28,313.53 481.00,314.60 C479.72,315.67 478.90,316.82 477.00,317.60 C475.10,318.38 472.77,319.07 469.60,319.30 C466.43,319.53 461.60,319.22 458.00,319.00 C454.40,318.78 451.23,318.53 448.00,318.00 C444.77,317.47 441.60,316.83 438.60,315.80 C435.60,314.77 432.68,312.58 430.00,311.80 C427.32,311.02 424.33,310.93 422.50,311.10 C420.67,311.27 420.25,312.12 419.00,312.80 C417.75,313.48 416.50,314.45 415.00,315.20 C413.50,315.95 411.50,316.77 410.00,317.30 C408.50,317.83 407.22,318.30 406.00,318.40 C404.78,318.50 403.25,317.98 402.70,317.90 Z" fill="#88c498"/>
<rect x="354.1" y="279.6" width="1.0" height="60.6" fill="#ffffff" opacity="0.38"/>
<rect x="403.9" y="279.6" width="1.0" height="60.6" fill="#ffffff" opacity="0.38"/>
<rect x="469.1" y="279.6" width="1.0" height="60.6" fill="#ffffff" opacity="0.38"/>
<rect x="324.6" y="279.5" width="165.9" height="60.7" fill="none" stroke="#6b6b6b" stroke-width="0.7"/>
<text x="331" y="307.6" font-size="3.2" fill="#333" stroke="#333" stroke-width="0.06">del17p/t(4;14)</text>
<text x="331.5" y="310.9" font-size="3.2" fill="#333" stroke="#333" stroke-width="0.06">KRAS?</text>
<text x="331.5" y="314.6" font-size="3.2" fill="#333" stroke="#333" stroke-width="0.06">mSig4</text>
<text x="355.2" y="314.6" font-size="3.6" fill="#333" stroke="#333" stroke-width="0.06">CRX</text>
<text x="401.6" y="301.8" font-size="3.4" fill="#333" stroke="#333" stroke-width="0.06">A601</text>
<text x="393.4" y="315.4" font-size="3.4" fill="#333" stroke="#333" stroke-width="0.06">KRAS2</text>
<text x="456.5" y="307.2" font-size="3.4" fill="#333" stroke="#333" stroke-width="0.06">ZDGHHC11</text>
<text x="472.8" y="315" font-size="3.4" fill="#333" stroke="#333" stroke-width="0.06">TP53</text>
<line x1="351.30" y1="343.80" x2="492.20" y2="343.80" stroke="#000" stroke-width="1.3"/>
<line x1="354.20" y1="343.80" x2="354.20" y2="346.60" stroke="#000" stroke-width="1.0"/>
<line x1="362.57" y1="343.80" x2="362.57" y2="345.70" stroke="#000" stroke-width="1.0"/>
<line x1="370.94" y1="343.80" x2="370.94" y2="345.70" stroke="#000" stroke-width="1.0"/>
<line x1="379.31" y1="343.80" x2="379.31" y2="345.70" stroke="#000" stroke-width="1.0"/>
<line x1="387.68" y1="343.80" x2="387.68" y2="346.60" stroke="#000" stroke-width="1.0"/>
<line x1="396.05" y1="343.80" x2="396.05" y2="345.70" stroke="#000" stroke-width="1.0"/>
<line x1="404.42" y1="343.80" x2="404.42" y2="345.70" stroke="#000" stroke-width="1.0"/>
<line x1="412.79" y1="343.80" x2="412.79" y2="345.70" stroke="#000" stroke-width="1.0"/>
<line x1="421.16" y1="343.80" x2="421.16" y2="346.60" stroke="#000" stroke-width="1.0"/>
<line x1="429.53" y1="343.80" x2="429.53" y2="345.70" stroke="#000" stroke-width="1.0"/>
<line x1="437.90" y1="343.80" x2="437.90" y2="345.70" stroke="#000" stroke-width="1.0"/>
<line x1="446.27" y1="343.80" x2="446.27" y2="345.70" stroke="#000" stroke-width="1.0"/>
<line x1="454.64" y1="343.80" x2="454.64" y2="346.60" stroke="#000" stroke-width="1.0"/>
<line x1="463.01" y1="343.80" x2="463.01" y2="345.70" stroke="#000" stroke-width="1.0"/>
<line x1="471.38" y1="343.80" x2="471.38" y2="345.70" stroke="#000" stroke-width="1.0"/>
<line x1="479.75" y1="343.80" x2="479.75" y2="345.70" stroke="#000" stroke-width="1.0"/>
<line x1="488.12" y1="343.80" x2="488.12" y2="346.60" stroke="#000" stroke-width="1.0"/>
<text x="354.2" y="354.7" font-size="6.0" fill="#222" stroke="#222" stroke-width="0.26" text-anchor="middle">0</text>
<text x="387.68" y="354.7" font-size="6.0" fill="#222" stroke="#222" stroke-width="0.26" text-anchor="middle">12</text>
<text x="421.15999999999997" y="354.7" font-size="6.0" fill="#222" stroke="#222" stroke-width="0.26" text-anchor="middle">24</text>
<text x="454.64" y="354.7" font-size="6.0" fill="#222" stroke="#222" stroke-width="0.26" text-anchor="middle">36</text>
<text x="488.12" y="354.7" font-size="6.0" fill="#222" stroke="#222" stroke-width="0.26" text-anchor="middle">48</text>
<text x="423.2" y="366.7" font-size="7.8" fill="#1a1a1a" stroke="#1a1a1a" stroke-width="0.12" text-anchor="middle" font-weight="bold" textLength="34.0" lengthAdjust="spacingAndGlyphs">Time months</text>
<rect x="0.00" y="0.00" width="1.20" height="443.00" fill="#000"/>
<rect x="518.70" y="0.00" width="1.30" height="443.00" fill="#000"/>
<rect x="0.00" y="0.00" width="520.00" height="1.00" fill="#000"/>
<rect x="0.00" y="441.80" width="520.00" height="1.20" fill="#000"/>
</svg>
</body></html>
